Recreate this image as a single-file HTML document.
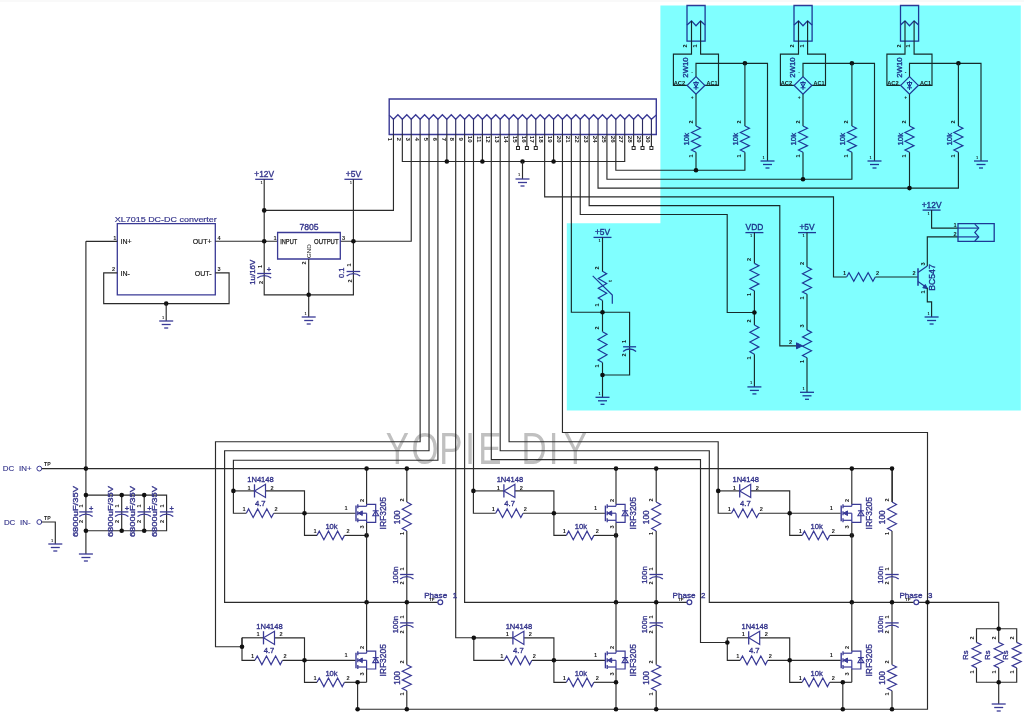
<!DOCTYPE html>
<html><head><meta charset="utf-8"><style>
html,body{margin:0;padding:0;background:#fff;width:1024px;height:716px;overflow:hidden}
svg{display:block}
text{font-family:"Liberation Sans",sans-serif}
</style></head><body>
<svg width="1024" height="716" viewBox="0 0 1024 716">
<rect x="0" y="0" width="1024" height="716" fill="#fff"/>
<rect x="0" y="0" width="1024" height="2" fill="#f9f9f9"/>
<text transform="translate(385.8,464.4) scale(0.8,1)" x="0" y="0" font-size="43.5" fill="#c0c0c0" font-family="Liberation Sans">Y</text>
<text transform="translate(411.5,464.4) scale(0.8,1)" x="0" y="0" font-size="43.5" fill="#c0c0c0" font-family="Liberation Sans">O</text>
<text transform="translate(439.3,464.4) scale(0.8,1)" x="0" y="0" font-size="43.5" fill="#c0c0c0" font-family="Liberation Sans">P</text>
<text transform="translate(465.2,464.4) scale(0.8,1)" x="0" y="0" font-size="43.5" fill="#c0c0c0" font-family="Liberation Sans">I</text>
<text transform="translate(478.3,464.4) scale(0.8,1)" x="0" y="0" font-size="43.5" fill="#c0c0c0" font-family="Liberation Sans">E</text>
<text transform="translate(521.4,464.4) scale(0.8,1)" x="0" y="0" font-size="43.5" fill="#c0c0c0" font-family="Liberation Sans">D</text>
<text transform="translate(548.8,464.4) scale(0.8,1)" x="0" y="0" font-size="43.5" fill="#c0c0c0" font-family="Liberation Sans">I</text>
<text transform="translate(563.7,464.4) scale(0.8,1)" x="0" y="0" font-size="43.5" fill="#c0c0c0" font-family="Liberation Sans">Y</text>
<polygon points="389.2,99 656.3,99 656.3,134.5 389.2,134.5" stroke="#3a3a96" stroke-width="1.4" fill="none"/>
<polyline points="389.2,115.1 393.45,119.3 397.9,114.7 402.34,119.3 406.79,114.7 411.24,119.3 415.69,114.7 420.13,119.3 424.58,114.7 429.03,119.3 433.48,114.7 437.92,119.3 442.37,114.7 446.82,119.3 451.27,114.7 455.71,119.3 460.16,114.7 464.61,119.3 469.06,114.7 473.5,119.3 477.95,114.7 482.4,119.3 486.85,114.7 491.29,119.3 495.74,114.7 500.19,119.3 504.64,114.7 509.08,119.3 513.53,114.7 517.98,119.3 522.43,114.7 526.88,119.3 531.33,114.7 535.77,119.3 540.22,114.7 544.66,119.3 549.12,114.7 553.56,119.3 558.01,114.7 562.45,119.3 566.9,114.7 571.35,119.3 575.8,114.7 580.25,119.3 584.7,114.7 589.14,119.3 593.59,114.7 598.03,119.3 602.49,114.7 606.93,119.3 611.38,114.7 615.83,119.3 620.28,114.7 624.72,119.3 629.17,114.7 633.62,119.3 638.07,114.7 642.51,119.3 646.96,114.7 651.4,119.3 656.3,115.1" stroke="#3a3a96" stroke-width="1.3" fill="none"/>
<line x1="393.45" y1="119.3" x2="393.45" y2="134.5" stroke="#2a2a60" stroke-width="1.15"/>
<text x="388.15" y="139.3" font-size="6.2" fill="#1a1a1a" text-anchor="middle" font-family="Liberation Sans" font-weight="bold" transform="rotate(90 388.15 139.3)">1</text>
<line x1="402.34" y1="119.3" x2="402.34" y2="134.5" stroke="#2a2a60" stroke-width="1.15"/>
<text x="397.04" y="139.3" font-size="6.2" fill="#1a1a1a" text-anchor="middle" font-family="Liberation Sans" font-weight="bold" transform="rotate(90 397.04 139.3)">2</text>
<line x1="411.24" y1="119.3" x2="411.24" y2="134.5" stroke="#2a2a60" stroke-width="1.15"/>
<text x="405.94" y="139.3" font-size="6.2" fill="#1a1a1a" text-anchor="middle" font-family="Liberation Sans" font-weight="bold" transform="rotate(90 405.94 139.3)">3</text>
<line x1="420.13" y1="119.3" x2="420.13" y2="134.5" stroke="#2a2a60" stroke-width="1.15"/>
<text x="414.83" y="139.3" font-size="6.2" fill="#1a1a1a" text-anchor="middle" font-family="Liberation Sans" font-weight="bold" transform="rotate(90 414.83 139.3)">4</text>
<line x1="429.03" y1="119.3" x2="429.03" y2="134.5" stroke="#2a2a60" stroke-width="1.15"/>
<text x="423.73" y="139.3" font-size="6.2" fill="#1a1a1a" text-anchor="middle" font-family="Liberation Sans" font-weight="bold" transform="rotate(90 423.73 139.3)">5</text>
<line x1="437.92" y1="119.3" x2="437.92" y2="134.5" stroke="#2a2a60" stroke-width="1.15"/>
<text x="432.62" y="139.3" font-size="6.2" fill="#1a1a1a" text-anchor="middle" font-family="Liberation Sans" font-weight="bold" transform="rotate(90 432.62 139.3)">6</text>
<line x1="446.82" y1="119.3" x2="446.82" y2="134.5" stroke="#2a2a60" stroke-width="1.15"/>
<text x="441.52" y="139.3" font-size="6.2" fill="#1a1a1a" text-anchor="middle" font-family="Liberation Sans" font-weight="bold" transform="rotate(90 441.52 139.3)">7</text>
<line x1="455.71" y1="119.3" x2="455.71" y2="134.5" stroke="#2a2a60" stroke-width="1.15"/>
<text x="450.41" y="139.3" font-size="6.2" fill="#1a1a1a" text-anchor="middle" font-family="Liberation Sans" font-weight="bold" transform="rotate(90 450.41 139.3)">8</text>
<line x1="464.61" y1="119.3" x2="464.61" y2="134.5" stroke="#2a2a60" stroke-width="1.15"/>
<text x="459.31" y="139.3" font-size="6.2" fill="#1a1a1a" text-anchor="middle" font-family="Liberation Sans" font-weight="bold" transform="rotate(90 459.31 139.3)">9</text>
<line x1="473.5" y1="119.3" x2="473.5" y2="134.5" stroke="#2a2a60" stroke-width="1.15"/>
<text x="468.2" y="139.3" font-size="6.2" fill="#1a1a1a" text-anchor="middle" font-family="Liberation Sans" font-weight="bold" transform="rotate(90 468.2 139.3)">10</text>
<line x1="482.4" y1="119.3" x2="482.4" y2="134.5" stroke="#2a2a60" stroke-width="1.15"/>
<text x="477.1" y="139.3" font-size="6.2" fill="#1a1a1a" text-anchor="middle" font-family="Liberation Sans" font-weight="bold" transform="rotate(90 477.1 139.3)">11</text>
<line x1="491.29" y1="119.3" x2="491.29" y2="134.5" stroke="#2a2a60" stroke-width="1.15"/>
<text x="485.99" y="139.3" font-size="6.2" fill="#1a1a1a" text-anchor="middle" font-family="Liberation Sans" font-weight="bold" transform="rotate(90 485.99 139.3)">12</text>
<line x1="500.19" y1="119.3" x2="500.19" y2="134.5" stroke="#2a2a60" stroke-width="1.15"/>
<text x="494.89" y="139.3" font-size="6.2" fill="#1a1a1a" text-anchor="middle" font-family="Liberation Sans" font-weight="bold" transform="rotate(90 494.89 139.3)">13</text>
<line x1="509.08" y1="119.3" x2="509.08" y2="134.5" stroke="#2a2a60" stroke-width="1.15"/>
<text x="503.78" y="139.3" font-size="6.2" fill="#1a1a1a" text-anchor="middle" font-family="Liberation Sans" font-weight="bold" transform="rotate(90 503.78 139.3)">14</text>
<line x1="517.98" y1="119.3" x2="517.98" y2="134.5" stroke="#2a2a60" stroke-width="1.15"/>
<text x="512.68" y="139.3" font-size="6.2" fill="#1a1a1a" text-anchor="middle" font-family="Liberation Sans" font-weight="bold" transform="rotate(90 512.68 139.3)">15</text>
<line x1="517.98" y1="134.5" x2="517.98" y2="146.5" stroke="#2b2b2b" stroke-width="1.15"/>
<rect x="516.48" y="146.5" width="3" height="3" fill="none" stroke="#2b2b2b" stroke-width="1"/>
<line x1="526.88" y1="119.3" x2="526.88" y2="134.5" stroke="#2a2a60" stroke-width="1.15"/>
<text x="521.58" y="139.3" font-size="6.2" fill="#1a1a1a" text-anchor="middle" font-family="Liberation Sans" font-weight="bold" transform="rotate(90 521.58 139.3)">16</text>
<line x1="526.88" y1="134.5" x2="526.88" y2="146.5" stroke="#2b2b2b" stroke-width="1.15"/>
<rect x="525.38" y="146.5" width="3" height="3" fill="none" stroke="#2b2b2b" stroke-width="1"/>
<line x1="535.77" y1="119.3" x2="535.77" y2="134.5" stroke="#2a2a60" stroke-width="1.15"/>
<text x="530.47" y="139.3" font-size="6.2" fill="#1a1a1a" text-anchor="middle" font-family="Liberation Sans" font-weight="bold" transform="rotate(90 530.47 139.3)">17</text>
<line x1="535.77" y1="134.5" x2="535.77" y2="146.5" stroke="#2b2b2b" stroke-width="1.15"/>
<rect x="534.27" y="146.5" width="3" height="3" fill="none" stroke="#2b2b2b" stroke-width="1"/>
<line x1="544.66" y1="119.3" x2="544.66" y2="134.5" stroke="#2a2a60" stroke-width="1.15"/>
<text x="539.37" y="139.3" font-size="6.2" fill="#1a1a1a" text-anchor="middle" font-family="Liberation Sans" font-weight="bold" transform="rotate(90 539.37 139.3)">18</text>
<line x1="553.56" y1="119.3" x2="553.56" y2="134.5" stroke="#2a2a60" stroke-width="1.15"/>
<text x="548.26" y="139.3" font-size="6.2" fill="#1a1a1a" text-anchor="middle" font-family="Liberation Sans" font-weight="bold" transform="rotate(90 548.26 139.3)">19</text>
<line x1="562.45" y1="119.3" x2="562.45" y2="134.5" stroke="#2a2a60" stroke-width="1.15"/>
<text x="557.15" y="139.3" font-size="6.2" fill="#1a1a1a" text-anchor="middle" font-family="Liberation Sans" font-weight="bold" transform="rotate(90 557.15 139.3)">20</text>
<line x1="571.35" y1="119.3" x2="571.35" y2="134.5" stroke="#2a2a60" stroke-width="1.15"/>
<text x="566.05" y="139.3" font-size="6.2" fill="#1a1a1a" text-anchor="middle" font-family="Liberation Sans" font-weight="bold" transform="rotate(90 566.05 139.3)">21</text>
<line x1="580.25" y1="119.3" x2="580.25" y2="134.5" stroke="#2a2a60" stroke-width="1.15"/>
<text x="574.95" y="139.3" font-size="6.2" fill="#1a1a1a" text-anchor="middle" font-family="Liberation Sans" font-weight="bold" transform="rotate(90 574.95 139.3)">22</text>
<line x1="589.14" y1="119.3" x2="589.14" y2="134.5" stroke="#2a2a60" stroke-width="1.15"/>
<text x="583.84" y="139.3" font-size="6.2" fill="#1a1a1a" text-anchor="middle" font-family="Liberation Sans" font-weight="bold" transform="rotate(90 583.84 139.3)">23</text>
<line x1="598.03" y1="119.3" x2="598.03" y2="134.5" stroke="#2a2a60" stroke-width="1.15"/>
<text x="592.74" y="139.3" font-size="6.2" fill="#1a1a1a" text-anchor="middle" font-family="Liberation Sans" font-weight="bold" transform="rotate(90 592.74 139.3)">24</text>
<line x1="606.93" y1="119.3" x2="606.93" y2="134.5" stroke="#2a2a60" stroke-width="1.15"/>
<text x="601.63" y="139.3" font-size="6.2" fill="#1a1a1a" text-anchor="middle" font-family="Liberation Sans" font-weight="bold" transform="rotate(90 601.63 139.3)">25</text>
<line x1="615.83" y1="119.3" x2="615.83" y2="134.5" stroke="#2a2a60" stroke-width="1.15"/>
<text x="610.53" y="139.3" font-size="6.2" fill="#1a1a1a" text-anchor="middle" font-family="Liberation Sans" font-weight="bold" transform="rotate(90 610.53 139.3)">26</text>
<line x1="624.72" y1="119.3" x2="624.72" y2="134.5" stroke="#2a2a60" stroke-width="1.15"/>
<text x="619.42" y="139.3" font-size="6.2" fill="#1a1a1a" text-anchor="middle" font-family="Liberation Sans" font-weight="bold" transform="rotate(90 619.42 139.3)">27</text>
<line x1="633.62" y1="119.3" x2="633.62" y2="134.5" stroke="#2a2a60" stroke-width="1.15"/>
<text x="628.32" y="139.3" font-size="6.2" fill="#1a1a1a" text-anchor="middle" font-family="Liberation Sans" font-weight="bold" transform="rotate(90 628.32 139.3)">28</text>
<line x1="633.62" y1="134.5" x2="633.62" y2="146.5" stroke="#2b2b2b" stroke-width="1.15"/>
<rect x="632.12" y="146.5" width="3" height="3" fill="none" stroke="#2b2b2b" stroke-width="1"/>
<line x1="642.51" y1="119.3" x2="642.51" y2="134.5" stroke="#2a2a60" stroke-width="1.15"/>
<text x="637.21" y="139.3" font-size="6.2" fill="#1a1a1a" text-anchor="middle" font-family="Liberation Sans" font-weight="bold" transform="rotate(90 637.21 139.3)">29</text>
<line x1="642.51" y1="134.5" x2="642.51" y2="146.5" stroke="#2b2b2b" stroke-width="1.15"/>
<rect x="641.01" y="146.5" width="3" height="3" fill="none" stroke="#2b2b2b" stroke-width="1"/>
<line x1="651.4" y1="119.3" x2="651.4" y2="134.5" stroke="#2a2a60" stroke-width="1.15"/>
<text x="646.11" y="139.3" font-size="6.2" fill="#1a1a1a" text-anchor="middle" font-family="Liberation Sans" font-weight="bold" transform="rotate(90 646.11 139.3)">30</text>
<line x1="651.4" y1="134.5" x2="651.4" y2="146.5" stroke="#2b2b2b" stroke-width="1.15"/>
<rect x="649.9" y="146.5" width="3" height="3" fill="none" stroke="#2b2b2b" stroke-width="1"/>
<polyline points="393.45,134.2 393.45,210.4 264.2,210.4" stroke="#2b2b2b" stroke-width="1.15" fill="none"/>
<polyline points="402.34,134.2 402.34,161.5 624.72,161.5 624.72,134.2" stroke="#2b2b2b" stroke-width="1.15" fill="none"/>
<polyline points="411.24,134.2 411.24,241.2 340.3,241.2" stroke="#2b2b2b" stroke-width="1.15" fill="none"/>
<polyline points="420.13,134.2 420.13,441.7 215.5,441.7 215.5,646.7 242,646.7" stroke="#2b2b2b" stroke-width="1.15" fill="none"/>
<polyline points="429.03,134.2 429.03,450.7 224.6,450.7 224.6,602.3 438,602.3" stroke="#2b2b2b" stroke-width="1.15" fill="none"/>
<polyline points="437.92,134.2 437.92,460.2 233.4,460.2 233.4,490.9" stroke="#2b2b2b" stroke-width="1.15" fill="none"/>
<polyline points="446.82,134.2 446.82,161.5" stroke="#2b2b2b" stroke-width="1.15" fill="none"/>
<polyline points="455.71,134.2 455.71,637.7 473.8,637.7" stroke="#2b2b2b" stroke-width="1.15" fill="none"/>
<polyline points="464.61,134.2 464.61,602.3 687.1,602.3" stroke="#2b2b2b" stroke-width="1.15" fill="none"/>
<polyline points="473.5,134.2 473.5,490.8" stroke="#2b2b2b" stroke-width="1.15" fill="none"/>
<polyline points="482.4,134.2 482.4,161.5" stroke="#2b2b2b" stroke-width="1.15" fill="none"/>
<polyline points="491.29,134.2 491.29,459.6 700.5,459.6 700.5,642.5 727.3,642.5" stroke="#2b2b2b" stroke-width="1.15" fill="none"/>
<polyline points="500.19,134.2 500.19,450.7 709.3,450.7 709.3,602.3 998.7,602.3 998.7,628.7" stroke="#2b2b2b" stroke-width="1.15" fill="none"/>
<polyline points="509.08,134.2 509.08,441.7 718.2,441.7 718.2,490.8" stroke="#2b2b2b" stroke-width="1.15" fill="none"/>
<polyline points="544.66,134.2 544.66,196.9 833.5,196.9 833.5,277 846.6,277" stroke="#2b2b2b" stroke-width="1.15" fill="none"/>
<polyline points="553.56,134.2 553.56,161.5" stroke="#2b2b2b" stroke-width="1.15" fill="none"/>
<polyline points="562.45,134.2 562.45,432.5 927.5,432.5 927.5,709.2 357.8,709.2" stroke="#2b2b2b" stroke-width="1.15" fill="none"/>
<polyline points="571.35,134.2 571.35,312.2 602.5,312.2" stroke="#2b2b2b" stroke-width="1.15" fill="none"/>
<polyline points="580.25,134.2 580.25,214.5 727.2,214.5 727.2,312.5 754.4,312.5" stroke="#2b2b2b" stroke-width="1.15" fill="none"/>
<polyline points="589.14,134.2 589.14,205.6 779.8,205.6 779.8,345.8 797.5,345.8" stroke="#2b2b2b" stroke-width="1.15" fill="none"/>
<polyline points="598.03,134.2 598.03,188.1 909.5,188.1" stroke="#2b2b2b" stroke-width="1.15" fill="none"/>
<polyline points="606.93,134.2 606.93,179.2 803,179.2" stroke="#2b2b2b" stroke-width="1.15" fill="none"/>
<polyline points="615.83,134.2 615.83,170.2 696,170.2" stroke="#2b2b2b" stroke-width="1.15" fill="none"/>
<circle cx="446.82" cy="161.5" r="2.3" fill="#111"/>
<circle cx="482.4" cy="161.5" r="2.3" fill="#111"/>
<circle cx="553.56" cy="161.5" r="2.3" fill="#111"/>
<circle cx="522.5" cy="161.5" r="2.3" fill="#111"/>
<polyline points="522.5,161.5 522.5,179" stroke="#2b2b2b" stroke-width="1.15" fill="none"/>
<line x1="515.5" y1="179" x2="529.5" y2="179" stroke="#3a3a96" stroke-width="1.3"/>
<line x1="518" y1="182.5" x2="527" y2="182.5" stroke="#3a3a96" stroke-width="1.3"/>
<line x1="520.5" y1="186" x2="524.5" y2="186" stroke="#3a3a96" stroke-width="1.3"/>
<text x="519" y="176" font-size="4" fill="#1a1a1a" text-anchor="middle" font-family="Liberation Sans" font-weight="bold">1</text>
<polygon points="117.3,223.6 215.3,223.6 215.3,294.9 117.3,294.9" stroke="#3a3a96" stroke-width="1.3" fill="none"/>
<text x="114.8" y="221.6" font-size="8.1" fill="#36368c" text-anchor="start" font-family="Liberation Mono" font-weight="normal" textLength="102" lengthAdjust="spacingAndGlyphs" stroke="#36368c" stroke-width="0.2">XL7015 DC-DC converter</text>
<text x="120.5" y="244.2" font-size="7" fill="#202020" text-anchor="start" font-family="Liberation Sans" font-weight="normal" stroke="#202020" stroke-width="0.2">IN+</text>
<text x="120.5" y="275.6" font-size="7" fill="#202020" text-anchor="start" font-family="Liberation Sans" font-weight="normal" stroke="#202020" stroke-width="0.2">IN-</text>
<text x="211.5" y="244.2" font-size="7" fill="#202020" text-anchor="end" font-family="Liberation Sans" font-weight="normal" stroke="#202020" stroke-width="0.2">OUT+</text>
<text x="211.5" y="275.6" font-size="7" fill="#202020" text-anchor="end" font-family="Liberation Sans" font-weight="normal" stroke="#202020" stroke-width="0.2">OUT-</text>
<text x="114.8" y="239.5" font-size="5.6" fill="#1a1a1a" text-anchor="middle" font-family="Liberation Sans" font-weight="bold">1</text>
<text x="113.5" y="270.5" font-size="5.6" fill="#1a1a1a" text-anchor="middle" font-family="Liberation Sans" font-weight="bold">2</text>
<text x="219" y="239.5" font-size="5.6" fill="#1a1a1a" text-anchor="middle" font-family="Liberation Sans" font-weight="bold">4</text>
<text x="219" y="270.5" font-size="5.6" fill="#1a1a1a" text-anchor="middle" font-family="Liberation Sans" font-weight="bold">3</text>
<polyline points="85.9,241.3 117.3,241.3" stroke="#2b2b2b" stroke-width="1.15" fill="none"/>
<polyline points="85.9,241.3 85.9,554" stroke="#2b2b2b" stroke-width="1.15" fill="none"/>
<polyline points="117.3,272.8 103.7,272.8 103.7,303.6 229.1,303.6 229.1,272.8 215.3,272.8" stroke="#2b2b2b" stroke-width="1.15" fill="none"/>
<circle cx="166.2" cy="303.6" r="2.3" fill="#111"/>
<polyline points="166.2,303.6 166.2,321" stroke="#2b2b2b" stroke-width="1.15" fill="none"/>
<line x1="159.2" y1="321" x2="173.2" y2="321" stroke="#3a3a96" stroke-width="1.3"/>
<line x1="161.7" y1="324.5" x2="170.7" y2="324.5" stroke="#3a3a96" stroke-width="1.3"/>
<line x1="164.2" y1="328" x2="168.2" y2="328" stroke="#3a3a96" stroke-width="1.3"/>
<text x="163" y="318.5" font-size="4" fill="#1a1a1a" text-anchor="middle" font-family="Liberation Sans" font-weight="bold">1</text>
<polyline points="215.3,241.2 277.6,241.2" stroke="#2b2b2b" stroke-width="1.15" fill="none"/>
<line x1="255.2" y1="179.3" x2="273.2" y2="179.3" stroke="#3a3a96" stroke-width="1.3"/>
<text x="264.2" y="176.7" font-size="8.4" fill="#36368c" text-anchor="middle" font-family="Liberation Sans" font-weight="normal" stroke="#36368c" stroke-width="0.35">+12V</text>
<line x1="344.4" y1="179.3" x2="362.4" y2="179.3" stroke="#3a3a96" stroke-width="1.3"/>
<text x="353.4" y="176.7" font-size="8.4" fill="#36368c" text-anchor="middle" font-family="Liberation Sans" font-weight="normal" stroke="#36368c" stroke-width="0.35">+5V</text>
<text x="261.5" y="184" font-size="4" fill="#1a1a1a" text-anchor="middle" font-family="Liberation Sans" font-weight="bold">1</text>
<text x="350.8" y="184" font-size="4" fill="#1a1a1a" text-anchor="middle" font-family="Liberation Sans" font-weight="bold">1</text>
<polygon points="277.6,232.5 340.3,232.5 340.3,259 277.6,259" stroke="#3a3a96" stroke-width="1.3" fill="none"/>
<text x="309" y="230.3" font-size="8.6" fill="#36368c" text-anchor="middle" font-family="Liberation Mono" font-weight="normal" stroke="#36368c" stroke-width="0.35">7805</text>
<text x="280.2" y="244" font-size="6.4" fill="#202020" text-anchor="start" font-family="Liberation Sans" font-weight="normal" textLength="17" lengthAdjust="spacingAndGlyphs" stroke="#202020" stroke-width="0.25">INPUT</text>
<text x="338.6" y="244" font-size="6.4" fill="#202020" text-anchor="end" font-family="Liberation Sans" font-weight="normal" textLength="24.6" lengthAdjust="spacingAndGlyphs" stroke="#202020" stroke-width="0.25">OUTPUT</text>
<text x="311.3" y="258" font-size="6.2" fill="#202020" text-anchor="start" font-family="Liberation Sans" font-weight="normal" transform="rotate(-90 311.3 258)">GND</text>
<text x="275" y="239.8" font-size="5.6" fill="#1a1a1a" text-anchor="middle" font-family="Liberation Sans" font-weight="bold">1</text>
<text x="343.5" y="239.8" font-size="5.6" fill="#1a1a1a" text-anchor="middle" font-family="Liberation Sans" font-weight="bold">3</text>
<text x="306" y="263" font-size="5.6" fill="#1a1a1a" text-anchor="middle" font-family="Liberation Sans" font-weight="bold" transform="rotate(-90 306 263)">2</text>
<polyline points="264.2,179.3 264.2,294.8 353.4,294.8 353.4,179.3" stroke="#2b2b2b" stroke-width="1.15" fill="none"/>
<polyline points="308.7,259 308.7,317" stroke="#2b2b2b" stroke-width="1.15" fill="none"/>
<line x1="257.2" y1="273.5" x2="271.2" y2="273.5" stroke="#3a3a96" stroke-width="1.3"/>
<path d="M257.2,278.1 A11.41,11.41 0 0 1 271.2,278.1" stroke="#3a3a96" stroke-width="1.3" fill="none"/>
<line x1="346.6" y1="271.5" x2="360.2" y2="271.5" stroke="#3a3a96" stroke-width="1.3"/>
<path d="M346.6,276.1 A10.83,10.83 0 0 1 360.2,276.1" stroke="#3a3a96" stroke-width="1.3" fill="none"/>
<text x="255.3" y="272.3" font-size="7.4" fill="#36368c" text-anchor="middle" font-family="Liberation Sans" font-weight="normal" transform="rotate(-90 255.3 272.3)" textLength="25" lengthAdjust="spacingAndGlyphs" stroke="#36368c" stroke-width="0.35">1u/16V</text>
<text x="344.2" y="272.8" font-size="7.4" fill="#36368c" text-anchor="middle" font-family="Liberation Sans" font-weight="normal" transform="rotate(-90 344.2 272.8)" stroke="#36368c" stroke-width="0.35">0.1</text>
<text x="269" y="271.5" font-size="7.5" fill="#36368c" text-anchor="middle" font-family="Liberation Sans" font-weight="normal" stroke="#36368c" stroke-width="0.35">+</text>
<text x="262" y="266.5" font-size="5.6" fill="#1a1a1a" text-anchor="middle" font-family="Liberation Sans" font-weight="bold" transform="rotate(-90 262 266.5)">1</text>
<text x="263" y="282.5" font-size="5.6" fill="#1a1a1a" text-anchor="middle" font-family="Liberation Sans" font-weight="bold" transform="rotate(-90 263 282.5)">2</text>
<text x="350.5" y="265" font-size="5.6" fill="#1a1a1a" text-anchor="middle" font-family="Liberation Sans" font-weight="bold" transform="rotate(-90 350.5 265)">1</text>
<text x="352" y="281" font-size="5.6" fill="#1a1a1a" text-anchor="middle" font-family="Liberation Sans" font-weight="bold" transform="rotate(-90 352 281)">2</text>
<circle cx="264.2" cy="210.4" r="2.3" fill="#111"/>
<circle cx="264.2" cy="241.2" r="2.3" fill="#111"/>
<circle cx="353.4" cy="241.2" r="2.3" fill="#111"/>
<circle cx="308.7" cy="294.8" r="2.3" fill="#111"/>
<line x1="301.7" y1="317" x2="315.7" y2="317" stroke="#3a3a96" stroke-width="1.3"/>
<line x1="304.2" y1="320.5" x2="313.2" y2="320.5" stroke="#3a3a96" stroke-width="1.3"/>
<line x1="306.7" y1="324" x2="310.7" y2="324" stroke="#3a3a96" stroke-width="1.3"/>
<text x="305.5" y="314.5" font-size="4" fill="#1a1a1a" text-anchor="middle" font-family="Liberation Sans" font-weight="bold">1</text>
<text x="2.8" y="471.3" font-size="7.9" fill="#36368c" text-anchor="start" font-family="Liberation Sans" font-weight="normal" stroke="#36368c" stroke-width="0.15">DC</text>
<text x="19" y="471.3" font-size="7.9" fill="#36368c" text-anchor="start" font-family="Liberation Sans" font-weight="normal" stroke="#36368c" stroke-width="0.15">IN+</text>
<text x="3.9" y="524.8" font-size="7.9" fill="#36368c" text-anchor="start" font-family="Liberation Sans" font-weight="normal" stroke="#36368c" stroke-width="0.15">DC</text>
<text x="20.1" y="524.8" font-size="7.9" fill="#36368c" text-anchor="start" font-family="Liberation Sans" font-weight="normal" stroke="#36368c" stroke-width="0.15">IN-</text>
<circle cx="39.3" cy="468.6" r="2.4" fill="none" stroke="#3a3a96" stroke-width="1.0"/>
<circle cx="39.3" cy="522" r="2.4" fill="none" stroke="#3a3a96" stroke-width="1.0"/>
<text x="47.3" y="466.3" font-size="5.2" fill="#1a1a1a" text-anchor="middle" font-family="Liberation Sans" font-weight="bold">TP</text>
<text x="47.3" y="519.8" font-size="5.2" fill="#1a1a1a" text-anchor="middle" font-family="Liberation Sans" font-weight="bold">TP</text>
<polyline points="41.6,468.6 892.3,468.6 892.3,502" stroke="#2b2b2b" stroke-width="1.15" fill="none"/>
<polyline points="41.6,522 55.3,522 55.3,544" stroke="#2b2b2b" stroke-width="1.15" fill="none"/>
<line x1="48.3" y1="544" x2="62.3" y2="544" stroke="#3a3a96" stroke-width="1.3"/>
<line x1="50.8" y1="547.5" x2="59.8" y2="547.5" stroke="#3a3a96" stroke-width="1.3"/>
<line x1="53.3" y1="551" x2="57.3" y2="551" stroke="#3a3a96" stroke-width="1.3"/>
<text x="52" y="541.5" font-size="4" fill="#1a1a1a" text-anchor="middle" font-family="Liberation Sans" font-weight="bold">1</text>
<polyline points="85.9,495.1 166.6,495.1 166.6,530.7 85.9,530.7" stroke="#2b2b2b" stroke-width="1.15" fill="none"/>
<polyline points="121.7,495.1 121.7,530.7" stroke="#2b2b2b" stroke-width="1.15" fill="none"/>
<polyline points="144.2,495.1 144.2,530.7" stroke="#2b2b2b" stroke-width="1.15" fill="none"/>
<line x1="79.2" y1="511.9" x2="92.6" y2="511.9" stroke="#3a3a96" stroke-width="1.3"/>
<path d="M79.2,516.5 A10.55,10.55 0 0 1 92.6,516.5" stroke="#3a3a96" stroke-width="1.3" fill="none"/>
<text x="91.1" y="510.5" font-size="7.5" fill="#36368c" text-anchor="middle" font-family="Liberation Sans" font-weight="normal" stroke="#36368c" stroke-width="0.35">+</text>
<text x="82.9" y="506" font-size="5.6" fill="#1a1a1a" text-anchor="middle" font-family="Liberation Sans" font-weight="bold" transform="rotate(-90 82.9 506)">1</text>
<text x="82.9" y="521.5" font-size="5.6" fill="#1a1a1a" text-anchor="middle" font-family="Liberation Sans" font-weight="bold" transform="rotate(-90 82.9 521.5)">2</text>
<line x1="115" y1="511.9" x2="128.4" y2="511.9" stroke="#3a3a96" stroke-width="1.3"/>
<path d="M115,516.5 A10.55,10.55 0 0 1 128.4,516.5" stroke="#3a3a96" stroke-width="1.3" fill="none"/>
<text x="126.9" y="510.5" font-size="7.5" fill="#36368c" text-anchor="middle" font-family="Liberation Sans" font-weight="normal" stroke="#36368c" stroke-width="0.35">+</text>
<text x="118.7" y="506" font-size="5.6" fill="#1a1a1a" text-anchor="middle" font-family="Liberation Sans" font-weight="bold" transform="rotate(-90 118.7 506)">1</text>
<text x="118.7" y="521.5" font-size="5.6" fill="#1a1a1a" text-anchor="middle" font-family="Liberation Sans" font-weight="bold" transform="rotate(-90 118.7 521.5)">2</text>
<line x1="137.5" y1="511.9" x2="150.9" y2="511.9" stroke="#3a3a96" stroke-width="1.3"/>
<path d="M137.5,516.5 A10.55,10.55 0 0 1 150.9,516.5" stroke="#3a3a96" stroke-width="1.3" fill="none"/>
<text x="149.4" y="510.5" font-size="7.5" fill="#36368c" text-anchor="middle" font-family="Liberation Sans" font-weight="normal" stroke="#36368c" stroke-width="0.35">+</text>
<text x="141.2" y="506" font-size="5.6" fill="#1a1a1a" text-anchor="middle" font-family="Liberation Sans" font-weight="bold" transform="rotate(-90 141.2 506)">1</text>
<text x="141.2" y="521.5" font-size="5.6" fill="#1a1a1a" text-anchor="middle" font-family="Liberation Sans" font-weight="bold" transform="rotate(-90 141.2 521.5)">2</text>
<line x1="159.9" y1="511.9" x2="173.3" y2="511.9" stroke="#3a3a96" stroke-width="1.3"/>
<path d="M159.9,516.5 A10.55,10.55 0 0 1 173.3,516.5" stroke="#3a3a96" stroke-width="1.3" fill="none"/>
<text x="171.8" y="510.5" font-size="7.5" fill="#36368c" text-anchor="middle" font-family="Liberation Sans" font-weight="normal" stroke="#36368c" stroke-width="0.35">+</text>
<text x="163.6" y="506" font-size="5.6" fill="#1a1a1a" text-anchor="middle" font-family="Liberation Sans" font-weight="bold" transform="rotate(-90 163.6 506)">1</text>
<text x="163.6" y="521.5" font-size="5.6" fill="#1a1a1a" text-anchor="middle" font-family="Liberation Sans" font-weight="bold" transform="rotate(-90 163.6 521.5)">2</text>
<text x="77.7" y="511.6" font-size="7.6" fill="#36368c" text-anchor="middle" font-family="Liberation Sans" font-weight="normal" transform="rotate(-90 77.7 511.6)" textLength="51" lengthAdjust="spacingAndGlyphs" stroke="#36368c" stroke-width="0.35">6800uF/35V</text>
<text x="112.9" y="511.6" font-size="7.6" fill="#36368c" text-anchor="middle" font-family="Liberation Sans" font-weight="normal" transform="rotate(-90 112.9 511.6)" textLength="51" lengthAdjust="spacingAndGlyphs" stroke="#36368c" stroke-width="0.35">6800uF/35V</text>
<text x="134.8" y="511.6" font-size="7.6" fill="#36368c" text-anchor="middle" font-family="Liberation Sans" font-weight="normal" transform="rotate(-90 134.8 511.6)" textLength="51" lengthAdjust="spacingAndGlyphs" stroke="#36368c" stroke-width="0.35">6800uF/35V</text>
<text x="157.5" y="511.6" font-size="7.6" fill="#36368c" text-anchor="middle" font-family="Liberation Sans" font-weight="normal" transform="rotate(-90 157.5 511.6)" textLength="51" lengthAdjust="spacingAndGlyphs" stroke="#36368c" stroke-width="0.35">6800uF/35V</text>
<circle cx="85.9" cy="468.6" r="2.3" fill="#111"/>
<circle cx="85.9" cy="495.1" r="2.3" fill="#111"/>
<circle cx="85.9" cy="530.7" r="2.3" fill="#111"/>
<circle cx="121.7" cy="495.1" r="2.3" fill="#111"/>
<circle cx="121.7" cy="530.7" r="2.3" fill="#111"/>
<circle cx="144.2" cy="495.1" r="2.3" fill="#111"/>
<circle cx="144.2" cy="530.7" r="2.3" fill="#111"/>
<line x1="78.9" y1="554" x2="92.9" y2="554" stroke="#3a3a96" stroke-width="1.3"/>
<line x1="81.4" y1="557.5" x2="90.4" y2="557.5" stroke="#3a3a96" stroke-width="1.3"/>
<line x1="83.9" y1="561" x2="87.9" y2="561" stroke="#3a3a96" stroke-width="1.3"/>
<polyline points="233.4,490.9 254.5,490.9" stroke="#2b2b2b" stroke-width="1.15" fill="none"/>
<polyline points="265.5,490.9 304.5,490.9 304.5,513.2" stroke="#2b2b2b" stroke-width="1.15" fill="none"/>
<line x1="254.5" y1="484.3" x2="254.5" y2="497.5" stroke="#3a3a96" stroke-width="1.3"/>
<polygon points="254.5,490.9 265.5,484.3 265.5,497.5" stroke="#3a3a96" stroke-width="1.2" fill="none"/>
<text x="260.5" y="481.6" font-size="7.6" fill="#36368c" text-anchor="middle" font-family="Liberation Sans" font-weight="normal" textLength="26.5" lengthAdjust="spacingAndGlyphs" stroke="#36368c" stroke-width="0.35">1N4148</text>
<text x="249" y="489.5" font-size="5.6" fill="#1a1a1a" text-anchor="middle" font-family="Liberation Sans" font-weight="bold">1</text>
<text x="272" y="489.5" font-size="5.6" fill="#1a1a1a" text-anchor="middle" font-family="Liberation Sans" font-weight="bold">2</text>
<polyline points="233.4,490.9 233.4,513.2 246.3,513.2" stroke="#2b2b2b" stroke-width="1.15" fill="none"/>
<polyline points="246.3,513.2 248.58,508.9 253.15,517.5 257.72,508.9 262.28,517.5 266.85,508.9 271.42,517.5 273.7,513.2" stroke="#3a3a96" stroke-width="1.2" fill="none"/>
<text x="260.2" y="506.3" font-size="7.6" fill="#36368c" text-anchor="middle" font-family="Liberation Sans" font-weight="normal" stroke="#36368c" stroke-width="0.35">4.7</text>
<text x="244" y="511" font-size="5.6" fill="#1a1a1a" text-anchor="middle" font-family="Liberation Sans" font-weight="bold">1</text>
<text x="276" y="511" font-size="5.6" fill="#1a1a1a" text-anchor="middle" font-family="Liberation Sans" font-weight="bold">2</text>
<polyline points="273.7,513.2 355.6,513.2" stroke="#2b2b2b" stroke-width="1.15" fill="none"/>
<polyline points="304.5,513.2 304.5,535.4 317,535.4" stroke="#2b2b2b" stroke-width="1.15" fill="none"/>
<polyline points="317,535.4 319.29,531.1 323.88,539.7 328.46,531.1 333.04,539.7 337.62,531.1 342.21,539.7 344.5,535.4" stroke="#3a3a96" stroke-width="1.2" fill="none"/>
<polyline points="344.5,535.4 366.6,535.4" stroke="#2b2b2b" stroke-width="1.15" fill="none"/>
<text x="331.5" y="528.6" font-size="7.6" fill="#36368c" text-anchor="middle" font-family="Liberation Sans" font-weight="normal" stroke="#36368c" stroke-width="0.35">10k</text>
<text x="315" y="533" font-size="5.6" fill="#1a1a1a" text-anchor="middle" font-family="Liberation Sans" font-weight="bold">1</text>
<text x="348" y="533" font-size="5.6" fill="#1a1a1a" text-anchor="middle" font-family="Liberation Sans" font-weight="bold">2</text>
<text x="346.1" y="510" font-size="5.6" fill="#1a1a1a" text-anchor="middle" font-family="Liberation Sans" font-weight="bold">1</text>
<circle cx="233.4" cy="490.9" r="2.3" fill="#111"/>
<circle cx="304.5" cy="513.2" r="2.3" fill="#111"/>
<circle cx="366.6" cy="535.4" r="2.3" fill="#111"/>
<polyline points="366.6,468.6 366.6,504.3" stroke="#2b2b2b" stroke-width="1.15" fill="none"/>
<polyline points="366.6,522.3 366.6,602.3" stroke="#2b2b2b" stroke-width="1.15" fill="none"/>
<line x1="356" y1="505.6" x2="356" y2="521.2" stroke="#3a3a96" stroke-width="1.4"/>
<line x1="357.8" y1="504.3" x2="357.8" y2="508.3" stroke="#3a3a96" stroke-width="1.3"/>
<line x1="357.8" y1="511.2" x2="357.8" y2="515.2" stroke="#3a3a96" stroke-width="1.3"/>
<line x1="357.8" y1="518.3" x2="357.8" y2="522.3" stroke="#3a3a96" stroke-width="1.3"/>
<line x1="357.8" y1="506.3" x2="366.6" y2="506.3" stroke="#3a3a96" stroke-width="1.2"/>
<line x1="366.6" y1="506.3" x2="366.6" y2="504.3" stroke="#3a3a96" stroke-width="1.2"/>
<line x1="357.8" y1="513.2" x2="366.6" y2="513.2" stroke="#3a3a96" stroke-width="1.2"/>
<polygon points="358.3,513.2 362.3,510.9 362.3,515.5" stroke="#3a3a96" stroke-width="1" fill="#3a3a96"/>
<line x1="366.6" y1="513.2" x2="366.6" y2="522.3" stroke="#3a3a96" stroke-width="1.2"/>
<line x1="357.8" y1="520.3" x2="366.6" y2="520.3" stroke="#3a3a96" stroke-width="1.2"/>
<polyline points="366.6,504.3 375.7,504.3 375.7,522.3 366.6,522.3" stroke="#3a3a96" stroke-width="1.2" fill="none"/>
<polygon points="375.7,510.8 372.7,515.8 378.7,515.8" stroke="#3a3a96" stroke-width="1.1" fill="none"/>
<line x1="372.7" y1="510.8" x2="378.7" y2="510.8" stroke="#3a3a96" stroke-width="1.1"/>
<text x="364.1" y="500.5" font-size="5.6" fill="#1a1a1a" text-anchor="middle" font-family="Liberation Sans" font-weight="bold" transform="rotate(-90 364.1 500.5)">2</text>
<text x="364.1" y="527" font-size="5.6" fill="#1a1a1a" text-anchor="middle" font-family="Liberation Sans" font-weight="bold" transform="rotate(-90 364.1 527)">3</text>
<text x="386.4" y="513.2" font-size="8.9" fill="#36368c" text-anchor="middle" font-family="Liberation Sans" font-weight="normal" transform="rotate(-90 386.4 513.2)" textLength="32.5" lengthAdjust="spacingAndGlyphs" stroke="#36368c" stroke-width="0.35">IRF3205</text>
<polyline points="406.8,468.6 406.8,502" stroke="#2b2b2b" stroke-width="1.15" fill="none"/>
<polyline points="406.8,502 411.3,504.42 402.3,509.25 411.3,514.08 402.3,518.92 411.3,523.75 402.3,528.58 406.8,531" stroke="#3a3a96" stroke-width="1.2" fill="none"/>
<polyline points="406.8,531 406.8,664.8" stroke="#2b2b2b" stroke-width="1.15" fill="none"/>
<line x1="400.1" y1="574.5" x2="413.5" y2="574.5" stroke="#3a3a96" stroke-width="1.3"/>
<path d="M400.1,579.1 A10.55,10.55 0 0 1 413.5,579.1" stroke="#3a3a96" stroke-width="1.3" fill="none"/>
<text x="399.8" y="517.3" font-size="8.2" fill="#36368c" text-anchor="middle" font-family="Liberation Sans" font-weight="normal" transform="rotate(-90 399.8 517.3)" stroke="#36368c" stroke-width="0.35">100</text>
<text x="403.8" y="500" font-size="5.6" fill="#1a1a1a" text-anchor="middle" font-family="Liberation Sans" font-weight="bold" transform="rotate(-90 403.8 500)">2</text>
<text x="403.6" y="533.5" font-size="5.6" fill="#1a1a1a" text-anchor="middle" font-family="Liberation Sans" font-weight="bold" transform="rotate(-90 403.6 533.5)">1</text>
<text x="397.9" y="575" font-size="7.9" fill="#36368c" text-anchor="middle" font-family="Liberation Sans" font-weight="normal" transform="rotate(-90 397.9 575)" stroke="#36368c" stroke-width="0.35">100n</text>
<text x="403.8" y="569" font-size="5.6" fill="#1a1a1a" text-anchor="middle" font-family="Liberation Sans" font-weight="bold" transform="rotate(-90 403.8 569)">1</text>
<text x="403.8" y="583" font-size="5.6" fill="#1a1a1a" text-anchor="middle" font-family="Liberation Sans" font-weight="bold" transform="rotate(-90 403.8 583)">2</text>
<circle cx="366.6" cy="468.6" r="2.3" fill="#111"/>
<circle cx="406.8" cy="468.6" r="2.3" fill="#111"/>
<circle cx="366.6" cy="602.3" r="2.3" fill="#111"/>
<circle cx="406.8" cy="602.3" r="2.3" fill="#111"/>
<polyline points="242,637.8 263.5,637.8" stroke="#2b2b2b" stroke-width="1.15" fill="none"/>
<polyline points="274.5,637.8 304.5,637.8 304.5,660.3" stroke="#2b2b2b" stroke-width="1.15" fill="none"/>
<line x1="263.5" y1="631.2" x2="263.5" y2="644.4" stroke="#3a3a96" stroke-width="1.3"/>
<polygon points="263.5,637.8 274.5,631.2 274.5,644.4" stroke="#3a3a96" stroke-width="1.2" fill="none"/>
<text x="269.5" y="628.5" font-size="7.6" fill="#36368c" text-anchor="middle" font-family="Liberation Sans" font-weight="normal" textLength="26.5" lengthAdjust="spacingAndGlyphs" stroke="#36368c" stroke-width="0.35">1N4148</text>
<text x="258" y="636" font-size="5.6" fill="#1a1a1a" text-anchor="middle" font-family="Liberation Sans" font-weight="bold">1</text>
<text x="281" y="636" font-size="5.6" fill="#1a1a1a" text-anchor="middle" font-family="Liberation Sans" font-weight="bold">2</text>
<polyline points="242,637.8 242,660.3 255,660.3" stroke="#2b2b2b" stroke-width="1.15" fill="none"/>
<polyline points="255,660.3 257.29,656 261.88,664.6 266.46,656 271.04,664.6 275.62,656 280.21,664.6 282.5,660.3" stroke="#3a3a96" stroke-width="1.2" fill="none"/>
<text x="269" y="653.3" font-size="7.6" fill="#36368c" text-anchor="middle" font-family="Liberation Sans" font-weight="normal" stroke="#36368c" stroke-width="0.35">4.7</text>
<text x="252.5" y="658" font-size="5.6" fill="#1a1a1a" text-anchor="middle" font-family="Liberation Sans" font-weight="bold">1</text>
<text x="285" y="658" font-size="5.6" fill="#1a1a1a" text-anchor="middle" font-family="Liberation Sans" font-weight="bold">2</text>
<polyline points="282.5,660.3 355.6,660.3" stroke="#2b2b2b" stroke-width="1.15" fill="none"/>
<polyline points="304.5,660.3 304.5,682.3 317,682.3" stroke="#2b2b2b" stroke-width="1.15" fill="none"/>
<polyline points="317,682.3 319.29,678 323.88,686.6 328.46,678 333.04,686.6 337.62,678 342.21,686.6 344.5,682.3" stroke="#3a3a96" stroke-width="1.2" fill="none"/>
<text x="331.5" y="675.5" font-size="7.6" fill="#36368c" text-anchor="middle" font-family="Liberation Sans" font-weight="normal" stroke="#36368c" stroke-width="0.35">10k</text>
<text x="315" y="680" font-size="5.6" fill="#1a1a1a" text-anchor="middle" font-family="Liberation Sans" font-weight="bold">1</text>
<text x="348" y="680" font-size="5.6" fill="#1a1a1a" text-anchor="middle" font-family="Liberation Sans" font-weight="bold">2</text>
<text x="346.1" y="657" font-size="5.6" fill="#1a1a1a" text-anchor="middle" font-family="Liberation Sans" font-weight="bold">1</text>
<circle cx="304.5" cy="660.3" r="2.3" fill="#111"/>
<polyline points="242,646.7 242,637.8" stroke="#2b2b2b" stroke-width="1.15" fill="none"/>
<circle cx="242" cy="646.7" r="2.3" fill="#111"/>
<polyline points="344.5,682.3 366.6,682.3" stroke="#2b2b2b" stroke-width="1.15" fill="none"/>
<polyline points="366.6,602.3 366.6,651.2" stroke="#2b2b2b" stroke-width="1.15" fill="none"/>
<polyline points="366.6,669 366.6,682.3" stroke="#2b2b2b" stroke-width="1.15" fill="none"/>
<line x1="356" y1="652.7" x2="356" y2="668.3" stroke="#3a3a96" stroke-width="1.4"/>
<line x1="357.8" y1="651.2" x2="357.8" y2="655.2" stroke="#3a3a96" stroke-width="1.3"/>
<line x1="357.8" y1="658.3" x2="357.8" y2="662.3" stroke="#3a3a96" stroke-width="1.3"/>
<line x1="357.8" y1="665" x2="357.8" y2="669" stroke="#3a3a96" stroke-width="1.3"/>
<line x1="357.8" y1="653.2" x2="366.6" y2="653.2" stroke="#3a3a96" stroke-width="1.2"/>
<line x1="366.6" y1="653.2" x2="366.6" y2="651.2" stroke="#3a3a96" stroke-width="1.2"/>
<line x1="357.8" y1="660.3" x2="366.6" y2="660.3" stroke="#3a3a96" stroke-width="1.2"/>
<polygon points="358.3,660.3 362.3,658 362.3,662.6" stroke="#3a3a96" stroke-width="1" fill="#3a3a96"/>
<line x1="366.6" y1="660.3" x2="366.6" y2="669" stroke="#3a3a96" stroke-width="1.2"/>
<line x1="357.8" y1="667" x2="366.6" y2="667" stroke="#3a3a96" stroke-width="1.2"/>
<polyline points="366.6,651.2 375.7,651.2 375.7,669 366.6,669" stroke="#3a3a96" stroke-width="1.2" fill="none"/>
<polygon points="375.7,657.6 372.7,662.6 378.7,662.6" stroke="#3a3a96" stroke-width="1.1" fill="none"/>
<line x1="372.7" y1="657.6" x2="378.7" y2="657.6" stroke="#3a3a96" stroke-width="1.1"/>
<text x="364.1" y="647.5" font-size="5.6" fill="#1a1a1a" text-anchor="middle" font-family="Liberation Sans" font-weight="bold" transform="rotate(-90 364.1 647.5)">2</text>
<text x="364.1" y="674" font-size="5.6" fill="#1a1a1a" text-anchor="middle" font-family="Liberation Sans" font-weight="bold" transform="rotate(-90 364.1 674)">3</text>
<text x="386.4" y="660.3" font-size="8.9" fill="#36368c" text-anchor="middle" font-family="Liberation Sans" font-weight="normal" transform="rotate(-90 386.4 660.3)" textLength="32.5" lengthAdjust="spacingAndGlyphs" stroke="#36368c" stroke-width="0.35">IRF3205</text>
<polyline points="357.6,682.3 357.6,709.2" stroke="#2b2b2b" stroke-width="1.15" fill="none"/>
<circle cx="357.6" cy="682.3" r="2.3" fill="#111"/>
<circle cx="357.6" cy="709.2" r="2.3" fill="#111"/>
<line x1="400.1" y1="622.9" x2="413.5" y2="622.9" stroke="#3a3a96" stroke-width="1.3"/>
<path d="M400.1,627.5 A10.55,10.55 0 0 1 413.5,627.5" stroke="#3a3a96" stroke-width="1.3" fill="none"/>
<polyline points="406.8,664.8 411.3,666.96 402.3,671.27 411.3,675.59 402.3,679.91 411.3,684.23 402.3,688.54 406.8,690.7" stroke="#3a3a96" stroke-width="1.2" fill="none"/>
<polyline points="406.8,690.7 406.8,709.2" stroke="#2b2b2b" stroke-width="1.15" fill="none"/>
<text x="397.9" y="624.5" font-size="7.9" fill="#36368c" text-anchor="middle" font-family="Liberation Sans" font-weight="normal" transform="rotate(-90 397.9 624.5)" stroke="#36368c" stroke-width="0.35">100n</text>
<text x="403.8" y="617" font-size="5.6" fill="#1a1a1a" text-anchor="middle" font-family="Liberation Sans" font-weight="bold" transform="rotate(-90 403.8 617)">1</text>
<text x="403.8" y="632" font-size="5.6" fill="#1a1a1a" text-anchor="middle" font-family="Liberation Sans" font-weight="bold" transform="rotate(-90 403.8 632)">2</text>
<text x="399.8" y="678" font-size="8.2" fill="#36368c" text-anchor="middle" font-family="Liberation Sans" font-weight="normal" transform="rotate(-90 399.8 678)" stroke="#36368c" stroke-width="0.35">100</text>
<text x="403.8" y="662" font-size="5.6" fill="#1a1a1a" text-anchor="middle" font-family="Liberation Sans" font-weight="bold" transform="rotate(-90 403.8 662)">2</text>
<text x="403.6" y="694" font-size="5.6" fill="#1a1a1a" text-anchor="middle" font-family="Liberation Sans" font-weight="bold" transform="rotate(-90 403.6 694)">1</text>
<circle cx="406.8" cy="709.2" r="2.3" fill="#111"/>
<circle cx="440.3" cy="602.3" r="2.4" fill="#fff" stroke="#3a3a96" stroke-width="1.2"/>
<text x="424.2" y="597.6" font-size="7.9" fill="#36368c" text-anchor="start" font-family="Liberation Sans" font-weight="normal" textLength="23" lengthAdjust="spacingAndGlyphs" stroke="#36368c" stroke-width="0.35">Phase</text>
<text x="452.7" y="597.6" font-size="7.9" fill="#36368c" text-anchor="start" font-family="Liberation Sans" font-weight="normal" stroke="#36368c" stroke-width="0.35">1</text>
<text x="431.8" y="601" font-size="4.3" fill="#1a1a1a" text-anchor="middle" font-family="Liberation Sans" font-weight="bold">TP</text>
<polyline points="473.4,490.9 503.9,490.9" stroke="#2b2b2b" stroke-width="1.15" fill="none"/>
<polyline points="514.9,490.9 553.9,490.9 553.9,513.2" stroke="#2b2b2b" stroke-width="1.15" fill="none"/>
<line x1="503.9" y1="484.3" x2="503.9" y2="497.5" stroke="#3a3a96" stroke-width="1.3"/>
<polygon points="503.9,490.9 514.9,484.3 514.9,497.5" stroke="#3a3a96" stroke-width="1.2" fill="none"/>
<text x="509.9" y="481.6" font-size="7.6" fill="#36368c" text-anchor="middle" font-family="Liberation Sans" font-weight="normal" textLength="26.5" lengthAdjust="spacingAndGlyphs" stroke="#36368c" stroke-width="0.35">1N4148</text>
<text x="498.4" y="489.5" font-size="5.6" fill="#1a1a1a" text-anchor="middle" font-family="Liberation Sans" font-weight="bold">1</text>
<text x="521.4" y="489.5" font-size="5.6" fill="#1a1a1a" text-anchor="middle" font-family="Liberation Sans" font-weight="bold">2</text>
<polyline points="473.4,490.9 473.4,513.2 495.7,513.2" stroke="#2b2b2b" stroke-width="1.15" fill="none"/>
<polyline points="495.7,513.2 497.98,508.9 502.55,517.5 507.12,508.9 511.68,517.5 516.25,508.9 520.82,517.5 523.1,513.2" stroke="#3a3a96" stroke-width="1.2" fill="none"/>
<text x="509.6" y="506.3" font-size="7.6" fill="#36368c" text-anchor="middle" font-family="Liberation Sans" font-weight="normal" stroke="#36368c" stroke-width="0.35">4.7</text>
<text x="493.4" y="511" font-size="5.6" fill="#1a1a1a" text-anchor="middle" font-family="Liberation Sans" font-weight="bold">1</text>
<text x="525.4" y="511" font-size="5.6" fill="#1a1a1a" text-anchor="middle" font-family="Liberation Sans" font-weight="bold">2</text>
<polyline points="523.1,513.2 605,513.2" stroke="#2b2b2b" stroke-width="1.15" fill="none"/>
<polyline points="553.9,513.2 553.9,535.4 566.4,535.4" stroke="#2b2b2b" stroke-width="1.15" fill="none"/>
<polyline points="566.4,535.4 568.69,531.1 573.27,539.7 577.86,531.1 582.44,539.7 587.02,531.1 591.61,539.7 593.9,535.4" stroke="#3a3a96" stroke-width="1.2" fill="none"/>
<polyline points="593.9,535.4 616,535.4" stroke="#2b2b2b" stroke-width="1.15" fill="none"/>
<text x="580.9" y="528.6" font-size="7.6" fill="#36368c" text-anchor="middle" font-family="Liberation Sans" font-weight="normal" stroke="#36368c" stroke-width="0.35">10k</text>
<text x="564.4" y="533" font-size="5.6" fill="#1a1a1a" text-anchor="middle" font-family="Liberation Sans" font-weight="bold">1</text>
<text x="597.4" y="533" font-size="5.6" fill="#1a1a1a" text-anchor="middle" font-family="Liberation Sans" font-weight="bold">2</text>
<text x="595.5" y="510" font-size="5.6" fill="#1a1a1a" text-anchor="middle" font-family="Liberation Sans" font-weight="bold">1</text>
<circle cx="473.4" cy="490.9" r="2.3" fill="#111"/>
<circle cx="553.9" cy="513.2" r="2.3" fill="#111"/>
<circle cx="616" cy="535.4" r="2.3" fill="#111"/>
<polyline points="616,468.6 616,504.3" stroke="#2b2b2b" stroke-width="1.15" fill="none"/>
<polyline points="616,522.3 616,602.3" stroke="#2b2b2b" stroke-width="1.15" fill="none"/>
<line x1="605.4" y1="505.6" x2="605.4" y2="521.2" stroke="#3a3a96" stroke-width="1.4"/>
<line x1="607.2" y1="504.3" x2="607.2" y2="508.3" stroke="#3a3a96" stroke-width="1.3"/>
<line x1="607.2" y1="511.2" x2="607.2" y2="515.2" stroke="#3a3a96" stroke-width="1.3"/>
<line x1="607.2" y1="518.3" x2="607.2" y2="522.3" stroke="#3a3a96" stroke-width="1.3"/>
<line x1="607.2" y1="506.3" x2="616" y2="506.3" stroke="#3a3a96" stroke-width="1.2"/>
<line x1="616" y1="506.3" x2="616" y2="504.3" stroke="#3a3a96" stroke-width="1.2"/>
<line x1="607.2" y1="513.2" x2="616" y2="513.2" stroke="#3a3a96" stroke-width="1.2"/>
<polygon points="607.7,513.2 611.7,510.9 611.7,515.5" stroke="#3a3a96" stroke-width="1" fill="#3a3a96"/>
<line x1="616" y1="513.2" x2="616" y2="522.3" stroke="#3a3a96" stroke-width="1.2"/>
<line x1="607.2" y1="520.3" x2="616" y2="520.3" stroke="#3a3a96" stroke-width="1.2"/>
<polyline points="616,504.3 625.1,504.3 625.1,522.3 616,522.3" stroke="#3a3a96" stroke-width="1.2" fill="none"/>
<polygon points="625.1,510.8 622.1,515.8 628.1,515.8" stroke="#3a3a96" stroke-width="1.1" fill="none"/>
<line x1="622.1" y1="510.8" x2="628.1" y2="510.8" stroke="#3a3a96" stroke-width="1.1"/>
<text x="613.5" y="500.5" font-size="5.6" fill="#1a1a1a" text-anchor="middle" font-family="Liberation Sans" font-weight="bold" transform="rotate(-90 613.5 500.5)">2</text>
<text x="613.5" y="527" font-size="5.6" fill="#1a1a1a" text-anchor="middle" font-family="Liberation Sans" font-weight="bold" transform="rotate(-90 613.5 527)">3</text>
<text x="635.8" y="513.2" font-size="8.9" fill="#36368c" text-anchor="middle" font-family="Liberation Sans" font-weight="normal" transform="rotate(-90 635.8 513.2)" textLength="32.5" lengthAdjust="spacingAndGlyphs" stroke="#36368c" stroke-width="0.35">IRF3205</text>
<polyline points="656.2,468.6 656.2,502" stroke="#2b2b2b" stroke-width="1.15" fill="none"/>
<polyline points="656.2,502 660.7,504.42 651.7,509.25 660.7,514.08 651.7,518.92 660.7,523.75 651.7,528.58 656.2,531" stroke="#3a3a96" stroke-width="1.2" fill="none"/>
<polyline points="656.2,531 656.2,664.8" stroke="#2b2b2b" stroke-width="1.15" fill="none"/>
<line x1="649.5" y1="574.5" x2="662.9" y2="574.5" stroke="#3a3a96" stroke-width="1.3"/>
<path d="M649.5,579.1 A10.55,10.55 0 0 1 662.9,579.1" stroke="#3a3a96" stroke-width="1.3" fill="none"/>
<text x="649.2" y="517.3" font-size="8.2" fill="#36368c" text-anchor="middle" font-family="Liberation Sans" font-weight="normal" transform="rotate(-90 649.2 517.3)" stroke="#36368c" stroke-width="0.35">100</text>
<text x="653.2" y="500" font-size="5.6" fill="#1a1a1a" text-anchor="middle" font-family="Liberation Sans" font-weight="bold" transform="rotate(-90 653.2 500)">2</text>
<text x="653" y="533.5" font-size="5.6" fill="#1a1a1a" text-anchor="middle" font-family="Liberation Sans" font-weight="bold" transform="rotate(-90 653 533.5)">1</text>
<text x="647.3" y="575" font-size="7.9" fill="#36368c" text-anchor="middle" font-family="Liberation Sans" font-weight="normal" transform="rotate(-90 647.3 575)" stroke="#36368c" stroke-width="0.35">100n</text>
<text x="653.2" y="569" font-size="5.6" fill="#1a1a1a" text-anchor="middle" font-family="Liberation Sans" font-weight="bold" transform="rotate(-90 653.2 569)">1</text>
<text x="653.2" y="583" font-size="5.6" fill="#1a1a1a" text-anchor="middle" font-family="Liberation Sans" font-weight="bold" transform="rotate(-90 653.2 583)">2</text>
<circle cx="616" cy="468.6" r="2.3" fill="#111"/>
<circle cx="656.2" cy="468.6" r="2.3" fill="#111"/>
<circle cx="616" cy="602.3" r="2.3" fill="#111"/>
<circle cx="656.2" cy="602.3" r="2.3" fill="#111"/>
<polyline points="473.8,637.8 512.9,637.8" stroke="#2b2b2b" stroke-width="1.15" fill="none"/>
<polyline points="523.9,637.8 553.9,637.8 553.9,660.3" stroke="#2b2b2b" stroke-width="1.15" fill="none"/>
<line x1="512.9" y1="631.2" x2="512.9" y2="644.4" stroke="#3a3a96" stroke-width="1.3"/>
<polygon points="512.9,637.8 523.9,631.2 523.9,644.4" stroke="#3a3a96" stroke-width="1.2" fill="none"/>
<text x="518.9" y="628.5" font-size="7.6" fill="#36368c" text-anchor="middle" font-family="Liberation Sans" font-weight="normal" textLength="26.5" lengthAdjust="spacingAndGlyphs" stroke="#36368c" stroke-width="0.35">1N4148</text>
<text x="507.4" y="636" font-size="5.6" fill="#1a1a1a" text-anchor="middle" font-family="Liberation Sans" font-weight="bold">1</text>
<text x="530.4" y="636" font-size="5.6" fill="#1a1a1a" text-anchor="middle" font-family="Liberation Sans" font-weight="bold">2</text>
<polyline points="473.8,637.8 473.8,660.3 504.4,660.3" stroke="#2b2b2b" stroke-width="1.15" fill="none"/>
<polyline points="504.4,660.3 506.69,656 511.27,664.6 515.86,656 520.44,664.6 525.02,656 529.61,664.6 531.9,660.3" stroke="#3a3a96" stroke-width="1.2" fill="none"/>
<text x="518.4" y="653.3" font-size="7.6" fill="#36368c" text-anchor="middle" font-family="Liberation Sans" font-weight="normal" stroke="#36368c" stroke-width="0.35">4.7</text>
<text x="501.9" y="658" font-size="5.6" fill="#1a1a1a" text-anchor="middle" font-family="Liberation Sans" font-weight="bold">1</text>
<text x="534.4" y="658" font-size="5.6" fill="#1a1a1a" text-anchor="middle" font-family="Liberation Sans" font-weight="bold">2</text>
<polyline points="531.9,660.3 605,660.3" stroke="#2b2b2b" stroke-width="1.15" fill="none"/>
<polyline points="553.9,660.3 553.9,682.3 566.4,682.3" stroke="#2b2b2b" stroke-width="1.15" fill="none"/>
<polyline points="566.4,682.3 568.69,678 573.27,686.6 577.86,678 582.44,686.6 587.02,678 591.61,686.6 593.9,682.3" stroke="#3a3a96" stroke-width="1.2" fill="none"/>
<text x="580.9" y="675.5" font-size="7.6" fill="#36368c" text-anchor="middle" font-family="Liberation Sans" font-weight="normal" stroke="#36368c" stroke-width="0.35">10k</text>
<text x="564.4" y="680" font-size="5.6" fill="#1a1a1a" text-anchor="middle" font-family="Liberation Sans" font-weight="bold">1</text>
<text x="597.4" y="680" font-size="5.6" fill="#1a1a1a" text-anchor="middle" font-family="Liberation Sans" font-weight="bold">2</text>
<text x="595.5" y="657" font-size="5.6" fill="#1a1a1a" text-anchor="middle" font-family="Liberation Sans" font-weight="bold">1</text>
<circle cx="553.9" cy="660.3" r="2.3" fill="#111"/>
<circle cx="473.8" cy="637.8" r="2.3" fill="#111"/>
<polyline points="593.9,682.3 616,682.3" stroke="#2b2b2b" stroke-width="1.15" fill="none"/>
<polyline points="616,602.3 616,651.2" stroke="#2b2b2b" stroke-width="1.15" fill="none"/>
<polyline points="616,669 616,682.3" stroke="#2b2b2b" stroke-width="1.15" fill="none"/>
<line x1="605.4" y1="652.7" x2="605.4" y2="668.3" stroke="#3a3a96" stroke-width="1.4"/>
<line x1="607.2" y1="651.2" x2="607.2" y2="655.2" stroke="#3a3a96" stroke-width="1.3"/>
<line x1="607.2" y1="658.3" x2="607.2" y2="662.3" stroke="#3a3a96" stroke-width="1.3"/>
<line x1="607.2" y1="665" x2="607.2" y2="669" stroke="#3a3a96" stroke-width="1.3"/>
<line x1="607.2" y1="653.2" x2="616" y2="653.2" stroke="#3a3a96" stroke-width="1.2"/>
<line x1="616" y1="653.2" x2="616" y2="651.2" stroke="#3a3a96" stroke-width="1.2"/>
<line x1="607.2" y1="660.3" x2="616" y2="660.3" stroke="#3a3a96" stroke-width="1.2"/>
<polygon points="607.7,660.3 611.7,658 611.7,662.6" stroke="#3a3a96" stroke-width="1" fill="#3a3a96"/>
<line x1="616" y1="660.3" x2="616" y2="669" stroke="#3a3a96" stroke-width="1.2"/>
<line x1="607.2" y1="667" x2="616" y2="667" stroke="#3a3a96" stroke-width="1.2"/>
<polyline points="616,651.2 625.1,651.2 625.1,669 616,669" stroke="#3a3a96" stroke-width="1.2" fill="none"/>
<polygon points="625.1,657.6 622.1,662.6 628.1,662.6" stroke="#3a3a96" stroke-width="1.1" fill="none"/>
<line x1="622.1" y1="657.6" x2="628.1" y2="657.6" stroke="#3a3a96" stroke-width="1.1"/>
<text x="613.5" y="647.5" font-size="5.6" fill="#1a1a1a" text-anchor="middle" font-family="Liberation Sans" font-weight="bold" transform="rotate(-90 613.5 647.5)">2</text>
<text x="613.5" y="674" font-size="5.6" fill="#1a1a1a" text-anchor="middle" font-family="Liberation Sans" font-weight="bold" transform="rotate(-90 613.5 674)">3</text>
<text x="635.8" y="660.3" font-size="8.9" fill="#36368c" text-anchor="middle" font-family="Liberation Sans" font-weight="normal" transform="rotate(-90 635.8 660.3)" textLength="32.5" lengthAdjust="spacingAndGlyphs" stroke="#36368c" stroke-width="0.35">IRF3205</text>
<polyline points="616,682.3 616,709.2" stroke="#2b2b2b" stroke-width="1.15" fill="none"/>
<circle cx="616" cy="682.3" r="2.3" fill="#111"/>
<circle cx="616" cy="709.2" r="2.3" fill="#111"/>
<line x1="649.5" y1="622.9" x2="662.9" y2="622.9" stroke="#3a3a96" stroke-width="1.3"/>
<path d="M649.5,627.5 A10.55,10.55 0 0 1 662.9,627.5" stroke="#3a3a96" stroke-width="1.3" fill="none"/>
<polyline points="656.2,664.8 660.7,666.96 651.7,671.27 660.7,675.59 651.7,679.91 660.7,684.23 651.7,688.54 656.2,690.7" stroke="#3a3a96" stroke-width="1.2" fill="none"/>
<polyline points="656.2,690.7 656.2,709.2" stroke="#2b2b2b" stroke-width="1.15" fill="none"/>
<text x="647.3" y="624.5" font-size="7.9" fill="#36368c" text-anchor="middle" font-family="Liberation Sans" font-weight="normal" transform="rotate(-90 647.3 624.5)" stroke="#36368c" stroke-width="0.35">100n</text>
<text x="653.2" y="617" font-size="5.6" fill="#1a1a1a" text-anchor="middle" font-family="Liberation Sans" font-weight="bold" transform="rotate(-90 653.2 617)">1</text>
<text x="653.2" y="632" font-size="5.6" fill="#1a1a1a" text-anchor="middle" font-family="Liberation Sans" font-weight="bold" transform="rotate(-90 653.2 632)">2</text>
<text x="649.2" y="678" font-size="8.2" fill="#36368c" text-anchor="middle" font-family="Liberation Sans" font-weight="normal" transform="rotate(-90 649.2 678)" stroke="#36368c" stroke-width="0.35">100</text>
<text x="653.2" y="662" font-size="5.6" fill="#1a1a1a" text-anchor="middle" font-family="Liberation Sans" font-weight="bold" transform="rotate(-90 653.2 662)">2</text>
<text x="653" y="694" font-size="5.6" fill="#1a1a1a" text-anchor="middle" font-family="Liberation Sans" font-weight="bold" transform="rotate(-90 653 694)">1</text>
<circle cx="656.2" cy="709.2" r="2.3" fill="#111"/>
<circle cx="689.4" cy="602.3" r="2.4" fill="#fff" stroke="#3a3a96" stroke-width="1.2"/>
<text x="672.5" y="597.6" font-size="7.9" fill="#36368c" text-anchor="start" font-family="Liberation Sans" font-weight="normal" textLength="23" lengthAdjust="spacingAndGlyphs" stroke="#36368c" stroke-width="0.35">Phase</text>
<text x="701" y="597.6" font-size="7.9" fill="#36368c" text-anchor="start" font-family="Liberation Sans" font-weight="normal" stroke="#36368c" stroke-width="0.35">2</text>
<text x="680.9" y="601" font-size="4.3" fill="#1a1a1a" text-anchor="middle" font-family="Liberation Sans" font-weight="bold">TP</text>
<polyline points="718.2,490.9 739.7,490.9" stroke="#2b2b2b" stroke-width="1.15" fill="none"/>
<polyline points="750.7,490.9 789.7,490.9 789.7,513.2" stroke="#2b2b2b" stroke-width="1.15" fill="none"/>
<line x1="739.7" y1="484.3" x2="739.7" y2="497.5" stroke="#3a3a96" stroke-width="1.3"/>
<polygon points="739.7,490.9 750.7,484.3 750.7,497.5" stroke="#3a3a96" stroke-width="1.2" fill="none"/>
<text x="745.7" y="481.6" font-size="7.6" fill="#36368c" text-anchor="middle" font-family="Liberation Sans" font-weight="normal" textLength="26.5" lengthAdjust="spacingAndGlyphs" stroke="#36368c" stroke-width="0.35">1N4148</text>
<text x="734.2" y="489.5" font-size="5.6" fill="#1a1a1a" text-anchor="middle" font-family="Liberation Sans" font-weight="bold">1</text>
<text x="757.2" y="489.5" font-size="5.6" fill="#1a1a1a" text-anchor="middle" font-family="Liberation Sans" font-weight="bold">2</text>
<polyline points="718.2,490.9 718.2,513.2 731.5,513.2" stroke="#2b2b2b" stroke-width="1.15" fill="none"/>
<polyline points="731.5,513.2 733.78,508.9 738.35,517.5 742.92,508.9 747.48,517.5 752.05,508.9 756.62,517.5 758.9,513.2" stroke="#3a3a96" stroke-width="1.2" fill="none"/>
<text x="745.4" y="506.3" font-size="7.6" fill="#36368c" text-anchor="middle" font-family="Liberation Sans" font-weight="normal" stroke="#36368c" stroke-width="0.35">4.7</text>
<text x="729.2" y="511" font-size="5.6" fill="#1a1a1a" text-anchor="middle" font-family="Liberation Sans" font-weight="bold">1</text>
<text x="761.2" y="511" font-size="5.6" fill="#1a1a1a" text-anchor="middle" font-family="Liberation Sans" font-weight="bold">2</text>
<polyline points="758.9,513.2 840.8,513.2" stroke="#2b2b2b" stroke-width="1.15" fill="none"/>
<polyline points="789.7,513.2 789.7,535.4 802.2,535.4" stroke="#2b2b2b" stroke-width="1.15" fill="none"/>
<polyline points="802.2,535.4 804.49,531.1 809.08,539.7 813.66,531.1 818.24,539.7 822.83,531.1 827.41,539.7 829.7,535.4" stroke="#3a3a96" stroke-width="1.2" fill="none"/>
<polyline points="829.7,535.4 851.8,535.4" stroke="#2b2b2b" stroke-width="1.15" fill="none"/>
<text x="816.7" y="528.6" font-size="7.6" fill="#36368c" text-anchor="middle" font-family="Liberation Sans" font-weight="normal" stroke="#36368c" stroke-width="0.35">10k</text>
<text x="800.2" y="533" font-size="5.6" fill="#1a1a1a" text-anchor="middle" font-family="Liberation Sans" font-weight="bold">1</text>
<text x="833.2" y="533" font-size="5.6" fill="#1a1a1a" text-anchor="middle" font-family="Liberation Sans" font-weight="bold">2</text>
<text x="831.3" y="510" font-size="5.6" fill="#1a1a1a" text-anchor="middle" font-family="Liberation Sans" font-weight="bold">1</text>
<circle cx="718.2" cy="490.9" r="2.3" fill="#111"/>
<circle cx="789.7" cy="513.2" r="2.3" fill="#111"/>
<circle cx="851.8" cy="535.4" r="2.3" fill="#111"/>
<polyline points="851.8,468.6 851.8,504.3" stroke="#2b2b2b" stroke-width="1.15" fill="none"/>
<polyline points="851.8,522.3 851.8,602.3" stroke="#2b2b2b" stroke-width="1.15" fill="none"/>
<line x1="841.2" y1="505.6" x2="841.2" y2="521.2" stroke="#3a3a96" stroke-width="1.4"/>
<line x1="843" y1="504.3" x2="843" y2="508.3" stroke="#3a3a96" stroke-width="1.3"/>
<line x1="843" y1="511.2" x2="843" y2="515.2" stroke="#3a3a96" stroke-width="1.3"/>
<line x1="843" y1="518.3" x2="843" y2="522.3" stroke="#3a3a96" stroke-width="1.3"/>
<line x1="843" y1="506.3" x2="851.8" y2="506.3" stroke="#3a3a96" stroke-width="1.2"/>
<line x1="851.8" y1="506.3" x2="851.8" y2="504.3" stroke="#3a3a96" stroke-width="1.2"/>
<line x1="843" y1="513.2" x2="851.8" y2="513.2" stroke="#3a3a96" stroke-width="1.2"/>
<polygon points="843.5,513.2 847.5,510.9 847.5,515.5" stroke="#3a3a96" stroke-width="1" fill="#3a3a96"/>
<line x1="851.8" y1="513.2" x2="851.8" y2="522.3" stroke="#3a3a96" stroke-width="1.2"/>
<line x1="843" y1="520.3" x2="851.8" y2="520.3" stroke="#3a3a96" stroke-width="1.2"/>
<polyline points="851.8,504.3 860.9,504.3 860.9,522.3 851.8,522.3" stroke="#3a3a96" stroke-width="1.2" fill="none"/>
<polygon points="860.9,510.8 857.9,515.8 863.9,515.8" stroke="#3a3a96" stroke-width="1.1" fill="none"/>
<line x1="857.9" y1="510.8" x2="863.9" y2="510.8" stroke="#3a3a96" stroke-width="1.1"/>
<text x="849.3" y="500.5" font-size="5.6" fill="#1a1a1a" text-anchor="middle" font-family="Liberation Sans" font-weight="bold" transform="rotate(-90 849.3 500.5)">2</text>
<text x="849.3" y="527" font-size="5.6" fill="#1a1a1a" text-anchor="middle" font-family="Liberation Sans" font-weight="bold" transform="rotate(-90 849.3 527)">3</text>
<text x="871.6" y="513.2" font-size="8.9" fill="#36368c" text-anchor="middle" font-family="Liberation Sans" font-weight="normal" transform="rotate(-90 871.6 513.2)" textLength="32.5" lengthAdjust="spacingAndGlyphs" stroke="#36368c" stroke-width="0.35">IRF3205</text>
<polyline points="892,468.6 892,502" stroke="#2b2b2b" stroke-width="1.15" fill="none"/>
<polyline points="892,502 896.5,504.42 887.5,509.25 896.5,514.08 887.5,518.92 896.5,523.75 887.5,528.58 892,531" stroke="#3a3a96" stroke-width="1.2" fill="none"/>
<polyline points="892,531 892,664.8" stroke="#2b2b2b" stroke-width="1.15" fill="none"/>
<line x1="885.3" y1="574.5" x2="898.7" y2="574.5" stroke="#3a3a96" stroke-width="1.3"/>
<path d="M885.3,579.1 A10.55,10.55 0 0 1 898.7,579.1" stroke="#3a3a96" stroke-width="1.3" fill="none"/>
<text x="885" y="517.3" font-size="8.2" fill="#36368c" text-anchor="middle" font-family="Liberation Sans" font-weight="normal" transform="rotate(-90 885 517.3)" stroke="#36368c" stroke-width="0.35">100</text>
<text x="889" y="500" font-size="5.6" fill="#1a1a1a" text-anchor="middle" font-family="Liberation Sans" font-weight="bold" transform="rotate(-90 889 500)">2</text>
<text x="888.8" y="533.5" font-size="5.6" fill="#1a1a1a" text-anchor="middle" font-family="Liberation Sans" font-weight="bold" transform="rotate(-90 888.8 533.5)">1</text>
<text x="883.1" y="575" font-size="7.9" fill="#36368c" text-anchor="middle" font-family="Liberation Sans" font-weight="normal" transform="rotate(-90 883.1 575)" stroke="#36368c" stroke-width="0.35">100n</text>
<text x="889" y="569" font-size="5.6" fill="#1a1a1a" text-anchor="middle" font-family="Liberation Sans" font-weight="bold" transform="rotate(-90 889 569)">1</text>
<text x="889" y="583" font-size="5.6" fill="#1a1a1a" text-anchor="middle" font-family="Liberation Sans" font-weight="bold" transform="rotate(-90 889 583)">2</text>
<circle cx="851.8" cy="468.6" r="2.3" fill="#111"/>
<circle cx="892" cy="468.6" r="2.3" fill="#111"/>
<circle cx="851.8" cy="602.3" r="2.3" fill="#111"/>
<circle cx="892" cy="602.3" r="2.3" fill="#111"/>
<polyline points="727.3,637.8 748.7,637.8" stroke="#2b2b2b" stroke-width="1.15" fill="none"/>
<polyline points="759.7,637.8 789.7,637.8 789.7,660.3" stroke="#2b2b2b" stroke-width="1.15" fill="none"/>
<line x1="748.7" y1="631.2" x2="748.7" y2="644.4" stroke="#3a3a96" stroke-width="1.3"/>
<polygon points="748.7,637.8 759.7,631.2 759.7,644.4" stroke="#3a3a96" stroke-width="1.2" fill="none"/>
<text x="754.7" y="628.5" font-size="7.6" fill="#36368c" text-anchor="middle" font-family="Liberation Sans" font-weight="normal" textLength="26.5" lengthAdjust="spacingAndGlyphs" stroke="#36368c" stroke-width="0.35">1N4148</text>
<text x="743.2" y="636" font-size="5.6" fill="#1a1a1a" text-anchor="middle" font-family="Liberation Sans" font-weight="bold">1</text>
<text x="766.2" y="636" font-size="5.6" fill="#1a1a1a" text-anchor="middle" font-family="Liberation Sans" font-weight="bold">2</text>
<polyline points="727.3,637.8 727.3,660.3 740.2,660.3" stroke="#2b2b2b" stroke-width="1.15" fill="none"/>
<polyline points="740.2,660.3 742.49,656 747.08,664.6 751.66,656 756.24,664.6 760.83,656 765.41,664.6 767.7,660.3" stroke="#3a3a96" stroke-width="1.2" fill="none"/>
<text x="754.2" y="653.3" font-size="7.6" fill="#36368c" text-anchor="middle" font-family="Liberation Sans" font-weight="normal" stroke="#36368c" stroke-width="0.35">4.7</text>
<text x="737.7" y="658" font-size="5.6" fill="#1a1a1a" text-anchor="middle" font-family="Liberation Sans" font-weight="bold">1</text>
<text x="770.2" y="658" font-size="5.6" fill="#1a1a1a" text-anchor="middle" font-family="Liberation Sans" font-weight="bold">2</text>
<polyline points="767.7,660.3 840.8,660.3" stroke="#2b2b2b" stroke-width="1.15" fill="none"/>
<polyline points="789.7,660.3 789.7,682.3 802.2,682.3" stroke="#2b2b2b" stroke-width="1.15" fill="none"/>
<polyline points="802.2,682.3 804.49,678 809.08,686.6 813.66,678 818.24,686.6 822.83,678 827.41,686.6 829.7,682.3" stroke="#3a3a96" stroke-width="1.2" fill="none"/>
<text x="816.7" y="675.5" font-size="7.6" fill="#36368c" text-anchor="middle" font-family="Liberation Sans" font-weight="normal" stroke="#36368c" stroke-width="0.35">10k</text>
<text x="800.2" y="680" font-size="5.6" fill="#1a1a1a" text-anchor="middle" font-family="Liberation Sans" font-weight="bold">1</text>
<text x="833.2" y="680" font-size="5.6" fill="#1a1a1a" text-anchor="middle" font-family="Liberation Sans" font-weight="bold">2</text>
<text x="831.3" y="657" font-size="5.6" fill="#1a1a1a" text-anchor="middle" font-family="Liberation Sans" font-weight="bold">1</text>
<circle cx="789.7" cy="660.3" r="2.3" fill="#111"/>
<circle cx="727.3" cy="642.5" r="2.3" fill="#111"/>
<polyline points="829.7,682.3 851.8,682.3" stroke="#2b2b2b" stroke-width="1.15" fill="none"/>
<polyline points="851.8,602.3 851.8,651.2" stroke="#2b2b2b" stroke-width="1.15" fill="none"/>
<polyline points="851.8,669 851.8,682.3" stroke="#2b2b2b" stroke-width="1.15" fill="none"/>
<line x1="841.2" y1="652.7" x2="841.2" y2="668.3" stroke="#3a3a96" stroke-width="1.4"/>
<line x1="843" y1="651.2" x2="843" y2="655.2" stroke="#3a3a96" stroke-width="1.3"/>
<line x1="843" y1="658.3" x2="843" y2="662.3" stroke="#3a3a96" stroke-width="1.3"/>
<line x1="843" y1="665" x2="843" y2="669" stroke="#3a3a96" stroke-width="1.3"/>
<line x1="843" y1="653.2" x2="851.8" y2="653.2" stroke="#3a3a96" stroke-width="1.2"/>
<line x1="851.8" y1="653.2" x2="851.8" y2="651.2" stroke="#3a3a96" stroke-width="1.2"/>
<line x1="843" y1="660.3" x2="851.8" y2="660.3" stroke="#3a3a96" stroke-width="1.2"/>
<polygon points="843.5,660.3 847.5,658 847.5,662.6" stroke="#3a3a96" stroke-width="1" fill="#3a3a96"/>
<line x1="851.8" y1="660.3" x2="851.8" y2="669" stroke="#3a3a96" stroke-width="1.2"/>
<line x1="843" y1="667" x2="851.8" y2="667" stroke="#3a3a96" stroke-width="1.2"/>
<polyline points="851.8,651.2 860.9,651.2 860.9,669 851.8,669" stroke="#3a3a96" stroke-width="1.2" fill="none"/>
<polygon points="860.9,657.6 857.9,662.6 863.9,662.6" stroke="#3a3a96" stroke-width="1.1" fill="none"/>
<line x1="857.9" y1="657.6" x2="863.9" y2="657.6" stroke="#3a3a96" stroke-width="1.1"/>
<text x="849.3" y="647.5" font-size="5.6" fill="#1a1a1a" text-anchor="middle" font-family="Liberation Sans" font-weight="bold" transform="rotate(-90 849.3 647.5)">2</text>
<text x="849.3" y="674" font-size="5.6" fill="#1a1a1a" text-anchor="middle" font-family="Liberation Sans" font-weight="bold" transform="rotate(-90 849.3 674)">3</text>
<text x="871.6" y="660.3" font-size="8.9" fill="#36368c" text-anchor="middle" font-family="Liberation Sans" font-weight="normal" transform="rotate(-90 871.6 660.3)" textLength="32.5" lengthAdjust="spacingAndGlyphs" stroke="#36368c" stroke-width="0.35">IRF3205</text>
<polyline points="842.8,682.3 842.8,709.2" stroke="#2b2b2b" stroke-width="1.15" fill="none"/>
<circle cx="842.8" cy="682.3" r="2.3" fill="#111"/>
<circle cx="842.8" cy="709.2" r="2.3" fill="#111"/>
<line x1="885.3" y1="622.9" x2="898.7" y2="622.9" stroke="#3a3a96" stroke-width="1.3"/>
<path d="M885.3,627.5 A10.55,10.55 0 0 1 898.7,627.5" stroke="#3a3a96" stroke-width="1.3" fill="none"/>
<polyline points="892,664.8 896.5,666.96 887.5,671.27 896.5,675.59 887.5,679.91 896.5,684.23 887.5,688.54 892,690.7" stroke="#3a3a96" stroke-width="1.2" fill="none"/>
<polyline points="892,690.7 892,709.2" stroke="#2b2b2b" stroke-width="1.15" fill="none"/>
<text x="883.1" y="624.5" font-size="7.9" fill="#36368c" text-anchor="middle" font-family="Liberation Sans" font-weight="normal" transform="rotate(-90 883.1 624.5)" stroke="#36368c" stroke-width="0.35">100n</text>
<text x="889" y="617" font-size="5.6" fill="#1a1a1a" text-anchor="middle" font-family="Liberation Sans" font-weight="bold" transform="rotate(-90 889 617)">1</text>
<text x="889" y="632" font-size="5.6" fill="#1a1a1a" text-anchor="middle" font-family="Liberation Sans" font-weight="bold" transform="rotate(-90 889 632)">2</text>
<text x="885" y="678" font-size="8.2" fill="#36368c" text-anchor="middle" font-family="Liberation Sans" font-weight="normal" transform="rotate(-90 885 678)" stroke="#36368c" stroke-width="0.35">100</text>
<text x="889" y="662" font-size="5.6" fill="#1a1a1a" text-anchor="middle" font-family="Liberation Sans" font-weight="bold" transform="rotate(-90 889 662)">2</text>
<text x="888.8" y="694" font-size="5.6" fill="#1a1a1a" text-anchor="middle" font-family="Liberation Sans" font-weight="bold" transform="rotate(-90 888.8 694)">1</text>
<circle cx="892" cy="709.2" r="2.3" fill="#111"/>
<circle cx="916.3" cy="602.3" r="2.4" fill="#fff" stroke="#3a3a96" stroke-width="1.2"/>
<text x="899.4" y="597.6" font-size="7.9" fill="#36368c" text-anchor="start" font-family="Liberation Sans" font-weight="normal" textLength="23" lengthAdjust="spacingAndGlyphs" stroke="#36368c" stroke-width="0.35">Phase</text>
<text x="927.9" y="597.6" font-size="7.9" fill="#36368c" text-anchor="start" font-family="Liberation Sans" font-weight="normal" stroke="#36368c" stroke-width="0.35">3</text>
<text x="907.8" y="601" font-size="4.3" fill="#1a1a1a" text-anchor="middle" font-family="Liberation Sans" font-weight="bold">TP</text>
<circle cx="927.5" cy="602.3" r="2.3" fill="#111"/>
<polyline points="976.5,642.4 976.5,628.7 1016.7,628.7 1016.7,642.4" stroke="#2b2b2b" stroke-width="1.15" fill="none"/>
<polyline points="976.5,667.9 976.5,682.2 1016.7,682.2 1016.7,667.9" stroke="#2b2b2b" stroke-width="1.15" fill="none"/>
<polyline points="998.7,628.7 998.7,642.4" stroke="#2b2b2b" stroke-width="1.15" fill="none"/>
<polyline points="998.7,667.9 998.7,704" stroke="#2b2b2b" stroke-width="1.15" fill="none"/>
<polyline points="976.5,642.4 981,644.52 972,648.77 981,653.02 972,657.27 981,661.52 972,665.77 976.5,667.9" stroke="#3a3a96" stroke-width="1.2" fill="none"/>
<text x="973.5" y="638" font-size="5.6" fill="#1a1a1a" text-anchor="middle" font-family="Liberation Sans" font-weight="bold" transform="rotate(-90 973.5 638)">2</text>
<text x="973.5" y="672" font-size="5.6" fill="#1a1a1a" text-anchor="middle" font-family="Liberation Sans" font-weight="bold" transform="rotate(-90 973.5 672)">1</text>
<polyline points="998.7,642.4 1003.2,644.52 994.2,648.77 1003.2,653.02 994.2,657.27 1003.2,661.52 994.2,665.77 998.7,667.9" stroke="#3a3a96" stroke-width="1.2" fill="none"/>
<text x="995.7" y="638" font-size="5.6" fill="#1a1a1a" text-anchor="middle" font-family="Liberation Sans" font-weight="bold" transform="rotate(-90 995.7 638)">2</text>
<text x="995.7" y="672" font-size="5.6" fill="#1a1a1a" text-anchor="middle" font-family="Liberation Sans" font-weight="bold" transform="rotate(-90 995.7 672)">1</text>
<polyline points="1016.7,642.4 1021.2,644.52 1012.2,648.77 1021.2,653.02 1012.2,657.27 1021.2,661.52 1012.2,665.77 1016.7,667.9" stroke="#3a3a96" stroke-width="1.2" fill="none"/>
<text x="1013.7" y="638" font-size="5.6" fill="#1a1a1a" text-anchor="middle" font-family="Liberation Sans" font-weight="bold" transform="rotate(-90 1013.7 638)">2</text>
<text x="1013.7" y="672" font-size="5.6" fill="#1a1a1a" text-anchor="middle" font-family="Liberation Sans" font-weight="bold" transform="rotate(-90 1013.7 672)">1</text>
<text x="967.9" y="655.2" font-size="7.6" fill="#36368c" text-anchor="middle" font-family="Liberation Sans" font-weight="normal" transform="rotate(-90 967.9 655.2)" stroke="#36368c" stroke-width="0.35">Rs</text>
<text x="990.1" y="655.2" font-size="7.6" fill="#36368c" text-anchor="middle" font-family="Liberation Sans" font-weight="normal" transform="rotate(-90 990.1 655.2)" stroke="#36368c" stroke-width="0.35">Rs</text>
<text x="1008.2" y="655.2" font-size="7.6" fill="#36368c" text-anchor="middle" font-family="Liberation Sans" font-weight="normal" transform="rotate(-90 1008.2 655.2)" stroke="#36368c" stroke-width="0.35">Rs</text>
<circle cx="998.7" cy="628.7" r="2.3" fill="#111"/>
<circle cx="998.7" cy="682.2" r="2.3" fill="#111"/>
<line x1="991.7" y1="704" x2="1005.7" y2="704" stroke="#3a3a96" stroke-width="1.3"/>
<line x1="994.2" y1="707.5" x2="1003.2" y2="707.5" stroke="#3a3a96" stroke-width="1.3"/>
<line x1="996.7" y1="711" x2="1000.7" y2="711" stroke="#3a3a96" stroke-width="1.3"/>
<polygon points="687,5.5 705.1,5.5 705.1,41.2 687,41.2" stroke="#3a3a96" stroke-width="1.3" fill="none"/>
<polyline points="687,25.1 691.5,20.9 696,25.8 700.6,20.9 705.1,25.1" stroke="#3a3a96" stroke-width="1.3" fill="none"/>
<polyline points="691.5,20.9 691.5,54.1 673.4,54.1 673.4,85.4 687.2,85.4" stroke="#2b2b2b" stroke-width="1.15" fill="none"/>
<polyline points="700.6,20.9 700.6,54.1 718.5,54.1 718.5,85.4 704.8,85.4" stroke="#2b2b2b" stroke-width="1.15" fill="none"/>
<text x="687" y="46" font-size="5.6" fill="#1a1a1a" text-anchor="middle" font-family="Liberation Sans" font-weight="bold" transform="rotate(-90 687 46)">2</text>
<text x="696.5" y="46" font-size="5.6" fill="#1a1a1a" text-anchor="middle" font-family="Liberation Sans" font-weight="bold" transform="rotate(-90 696.5 46)">1</text>
<polygon points="696,76.6 704.8,85.4 696,94.2 687.2,85.4" stroke="#3a3a96" stroke-width="1.3" fill="none"/>
<polygon points="693.5,82.5 698.5,82.5 696,87.5" stroke="#3a3a96" stroke-width="1" fill="none"/>
<line x1="693.5" y1="87.8" x2="698.5" y2="87.8" stroke="#3a3a96" stroke-width="1"/>
<line x1="696" y1="81" x2="696" y2="90" stroke="#3a3a96" stroke-width="1"/>
<text x="673.7" y="85.2" font-size="5.8" fill="#202020" text-anchor="start" font-family="Liberation Sans" font-weight="bold" textLength="11.5" lengthAdjust="spacingAndGlyphs">AC2</text>
<text x="706.5" y="85.2" font-size="5.8" fill="#202020" text-anchor="start" font-family="Liberation Sans" font-weight="bold" textLength="11" lengthAdjust="spacingAndGlyphs">AC1</text>
<text x="688" y="67.5" font-size="7.8" fill="#36368c" text-anchor="middle" font-family="Liberation Sans" font-weight="normal" transform="rotate(-90 688 67.5)" stroke="#36368c" stroke-width="0.35">2W10</text>
<text x="692.2" y="74" font-size="5" fill="#1a1a1a" text-anchor="middle" font-family="Liberation Sans" font-weight="bold">-</text>
<text x="692.2" y="99" font-size="5" fill="#1a1a1a" text-anchor="middle" font-family="Liberation Sans" font-weight="bold">+</text>
<polyline points="696,76.6 696,63.3 767.5,63.3 767.5,161" stroke="#2b2b2b" stroke-width="1.15" fill="none"/>
<line x1="760.5" y1="161" x2="774.5" y2="161" stroke="#3a3a96" stroke-width="1.3"/>
<line x1="763" y1="164.5" x2="772" y2="164.5" stroke="#3a3a96" stroke-width="1.3"/>
<line x1="765.5" y1="168" x2="769.5" y2="168" stroke="#3a3a96" stroke-width="1.3"/>
<text x="763.5" y="158.5" font-size="4" fill="#1a1a1a" text-anchor="middle" font-family="Liberation Sans" font-weight="bold">1</text>
<circle cx="744.9" cy="63.3" r="2.3" fill="#111"/>
<polyline points="744.9,63.3 744.9,126" stroke="#2b2b2b" stroke-width="1.15" fill="none"/>
<polyline points="744.9,126 749.4,128.18 740.4,132.55 749.4,136.92 740.4,141.28 749.4,145.65 740.4,150.02 744.9,152.2" stroke="#3a3a96" stroke-width="1.2" fill="none"/>
<polyline points="744.9,152.2 744.9,170.2 696,170.2" stroke="#2b2b2b" stroke-width="1.15" fill="none"/>
<polyline points="696,94.2 696,126" stroke="#2b2b2b" stroke-width="1.15" fill="none"/>
<polyline points="696,126 700.5,128.18 691.5,132.55 700.5,136.92 691.5,141.28 700.5,145.65 691.5,150.02 696,152.2" stroke="#3a3a96" stroke-width="1.2" fill="none"/>
<polyline points="696,152.2 696,170.2" stroke="#2b2b2b" stroke-width="1.15" fill="none"/>
<circle cx="696" cy="170.2" r="2.3" fill="#111"/>
<text x="689.2" y="139.2" font-size="7.9" fill="#36368c" text-anchor="middle" font-family="Liberation Sans" font-weight="normal" transform="rotate(-90 689.2 139.2)" stroke="#36368c" stroke-width="0.35">10k</text>
<text x="692.5" y="122" font-size="5.6" fill="#1a1a1a" text-anchor="middle" font-family="Liberation Sans" font-weight="bold" transform="rotate(-90 692.5 122)">2</text>
<text x="692.5" y="156" font-size="5.6" fill="#1a1a1a" text-anchor="middle" font-family="Liberation Sans" font-weight="bold" transform="rotate(-90 692.5 156)">1</text>
<text x="738.1" y="139.2" font-size="7.9" fill="#36368c" text-anchor="middle" font-family="Liberation Sans" font-weight="normal" transform="rotate(-90 738.1 139.2)" stroke="#36368c" stroke-width="0.35">10k</text>
<text x="741.4" y="122" font-size="5.6" fill="#1a1a1a" text-anchor="middle" font-family="Liberation Sans" font-weight="bold" transform="rotate(-90 741.4 122)">2</text>
<text x="741.4" y="156" font-size="5.6" fill="#1a1a1a" text-anchor="middle" font-family="Liberation Sans" font-weight="bold" transform="rotate(-90 741.4 156)">1</text>
<polygon points="794,5.5 812.1,5.5 812.1,41.2 794,41.2" stroke="#3a3a96" stroke-width="1.3" fill="none"/>
<polyline points="794,25.1 798.5,20.9 803,25.8 807.6,20.9 812.1,25.1" stroke="#3a3a96" stroke-width="1.3" fill="none"/>
<polyline points="798.5,20.9 798.5,54.1 780.4,54.1 780.4,85.4 794.2,85.4" stroke="#2b2b2b" stroke-width="1.15" fill="none"/>
<polyline points="807.6,20.9 807.6,54.1 825.5,54.1 825.5,85.4 811.8,85.4" stroke="#2b2b2b" stroke-width="1.15" fill="none"/>
<text x="794" y="46" font-size="5.6" fill="#1a1a1a" text-anchor="middle" font-family="Liberation Sans" font-weight="bold" transform="rotate(-90 794 46)">2</text>
<text x="803.5" y="46" font-size="5.6" fill="#1a1a1a" text-anchor="middle" font-family="Liberation Sans" font-weight="bold" transform="rotate(-90 803.5 46)">1</text>
<polygon points="803,76.6 811.8,85.4 803,94.2 794.2,85.4" stroke="#3a3a96" stroke-width="1.3" fill="none"/>
<polygon points="800.5,82.5 805.5,82.5 803,87.5" stroke="#3a3a96" stroke-width="1" fill="none"/>
<line x1="800.5" y1="87.8" x2="805.5" y2="87.8" stroke="#3a3a96" stroke-width="1"/>
<line x1="803" y1="81" x2="803" y2="90" stroke="#3a3a96" stroke-width="1"/>
<text x="780.7" y="85.2" font-size="5.8" fill="#202020" text-anchor="start" font-family="Liberation Sans" font-weight="bold" textLength="11.5" lengthAdjust="spacingAndGlyphs">AC2</text>
<text x="813.5" y="85.2" font-size="5.8" fill="#202020" text-anchor="start" font-family="Liberation Sans" font-weight="bold" textLength="11" lengthAdjust="spacingAndGlyphs">AC1</text>
<text x="795" y="67.5" font-size="7.8" fill="#36368c" text-anchor="middle" font-family="Liberation Sans" font-weight="normal" transform="rotate(-90 795 67.5)" stroke="#36368c" stroke-width="0.35">2W10</text>
<text x="799.2" y="74" font-size="5" fill="#1a1a1a" text-anchor="middle" font-family="Liberation Sans" font-weight="bold">-</text>
<text x="799.2" y="99" font-size="5" fill="#1a1a1a" text-anchor="middle" font-family="Liberation Sans" font-weight="bold">+</text>
<polyline points="803,76.6 803,63.3 874.5,63.3 874.5,161" stroke="#2b2b2b" stroke-width="1.15" fill="none"/>
<line x1="867.5" y1="161" x2="881.5" y2="161" stroke="#3a3a96" stroke-width="1.3"/>
<line x1="870" y1="164.5" x2="879" y2="164.5" stroke="#3a3a96" stroke-width="1.3"/>
<line x1="872.5" y1="168" x2="876.5" y2="168" stroke="#3a3a96" stroke-width="1.3"/>
<text x="870.5" y="158.5" font-size="4" fill="#1a1a1a" text-anchor="middle" font-family="Liberation Sans" font-weight="bold">1</text>
<circle cx="851.9" cy="63.3" r="2.3" fill="#111"/>
<polyline points="851.9,63.3 851.9,126" stroke="#2b2b2b" stroke-width="1.15" fill="none"/>
<polyline points="851.9,126 856.4,128.18 847.4,132.55 856.4,136.92 847.4,141.28 856.4,145.65 847.4,150.02 851.9,152.2" stroke="#3a3a96" stroke-width="1.2" fill="none"/>
<polyline points="851.9,152.2 851.9,179.2 803,179.2" stroke="#2b2b2b" stroke-width="1.15" fill="none"/>
<polyline points="803,94.2 803,126" stroke="#2b2b2b" stroke-width="1.15" fill="none"/>
<polyline points="803,126 807.5,128.18 798.5,132.55 807.5,136.92 798.5,141.28 807.5,145.65 798.5,150.02 803,152.2" stroke="#3a3a96" stroke-width="1.2" fill="none"/>
<polyline points="803,152.2 803,179.2" stroke="#2b2b2b" stroke-width="1.15" fill="none"/>
<circle cx="803" cy="179.2" r="2.3" fill="#111"/>
<text x="796.2" y="139.2" font-size="7.9" fill="#36368c" text-anchor="middle" font-family="Liberation Sans" font-weight="normal" transform="rotate(-90 796.2 139.2)" stroke="#36368c" stroke-width="0.35">10k</text>
<text x="799.5" y="122" font-size="5.6" fill="#1a1a1a" text-anchor="middle" font-family="Liberation Sans" font-weight="bold" transform="rotate(-90 799.5 122)">2</text>
<text x="799.5" y="156" font-size="5.6" fill="#1a1a1a" text-anchor="middle" font-family="Liberation Sans" font-weight="bold" transform="rotate(-90 799.5 156)">1</text>
<text x="845.1" y="139.2" font-size="7.9" fill="#36368c" text-anchor="middle" font-family="Liberation Sans" font-weight="normal" transform="rotate(-90 845.1 139.2)" stroke="#36368c" stroke-width="0.35">10k</text>
<text x="848.4" y="122" font-size="5.6" fill="#1a1a1a" text-anchor="middle" font-family="Liberation Sans" font-weight="bold" transform="rotate(-90 848.4 122)">2</text>
<text x="848.4" y="156" font-size="5.6" fill="#1a1a1a" text-anchor="middle" font-family="Liberation Sans" font-weight="bold" transform="rotate(-90 848.4 156)">1</text>
<polygon points="900.5,5.5 918.6,5.5 918.6,41.2 900.5,41.2" stroke="#3a3a96" stroke-width="1.3" fill="none"/>
<polyline points="900.5,25.1 905,20.9 909.5,25.8 914.1,20.9 918.6,25.1" stroke="#3a3a96" stroke-width="1.3" fill="none"/>
<polyline points="905,20.9 905,54.1 886.9,54.1 886.9,85.4 900.7,85.4" stroke="#2b2b2b" stroke-width="1.15" fill="none"/>
<polyline points="914.1,20.9 914.1,54.1 932,54.1 932,85.4 918.3,85.4" stroke="#2b2b2b" stroke-width="1.15" fill="none"/>
<text x="900.5" y="46" font-size="5.6" fill="#1a1a1a" text-anchor="middle" font-family="Liberation Sans" font-weight="bold" transform="rotate(-90 900.5 46)">2</text>
<text x="910" y="46" font-size="5.6" fill="#1a1a1a" text-anchor="middle" font-family="Liberation Sans" font-weight="bold" transform="rotate(-90 910 46)">1</text>
<polygon points="909.5,76.6 918.3,85.4 909.5,94.2 900.7,85.4" stroke="#3a3a96" stroke-width="1.3" fill="none"/>
<polygon points="907,82.5 912,82.5 909.5,87.5" stroke="#3a3a96" stroke-width="1" fill="none"/>
<line x1="907" y1="87.8" x2="912" y2="87.8" stroke="#3a3a96" stroke-width="1"/>
<line x1="909.5" y1="81" x2="909.5" y2="90" stroke="#3a3a96" stroke-width="1"/>
<text x="887.2" y="85.2" font-size="5.8" fill="#202020" text-anchor="start" font-family="Liberation Sans" font-weight="bold" textLength="11.5" lengthAdjust="spacingAndGlyphs">AC2</text>
<text x="920" y="85.2" font-size="5.8" fill="#202020" text-anchor="start" font-family="Liberation Sans" font-weight="bold" textLength="11" lengthAdjust="spacingAndGlyphs">AC1</text>
<text x="901.5" y="67.5" font-size="7.8" fill="#36368c" text-anchor="middle" font-family="Liberation Sans" font-weight="normal" transform="rotate(-90 901.5 67.5)" stroke="#36368c" stroke-width="0.35">2W10</text>
<text x="905.7" y="74" font-size="5" fill="#1a1a1a" text-anchor="middle" font-family="Liberation Sans" font-weight="bold">-</text>
<text x="905.7" y="99" font-size="5" fill="#1a1a1a" text-anchor="middle" font-family="Liberation Sans" font-weight="bold">+</text>
<polyline points="909.5,76.6 909.5,63.3 981,63.3 981,161" stroke="#2b2b2b" stroke-width="1.15" fill="none"/>
<line x1="974" y1="161" x2="988" y2="161" stroke="#3a3a96" stroke-width="1.3"/>
<line x1="976.5" y1="164.5" x2="985.5" y2="164.5" stroke="#3a3a96" stroke-width="1.3"/>
<line x1="979" y1="168" x2="983" y2="168" stroke="#3a3a96" stroke-width="1.3"/>
<text x="977" y="158.5" font-size="4" fill="#1a1a1a" text-anchor="middle" font-family="Liberation Sans" font-weight="bold">1</text>
<circle cx="958.4" cy="63.3" r="2.3" fill="#111"/>
<polyline points="958.4,63.3 958.4,126" stroke="#2b2b2b" stroke-width="1.15" fill="none"/>
<polyline points="958.4,126 962.9,128.18 953.9,132.55 962.9,136.92 953.9,141.28 962.9,145.65 953.9,150.02 958.4,152.2" stroke="#3a3a96" stroke-width="1.2" fill="none"/>
<polyline points="958.4,152.2 958.4,188.1 909.5,188.1" stroke="#2b2b2b" stroke-width="1.15" fill="none"/>
<polyline points="909.5,94.2 909.5,126" stroke="#2b2b2b" stroke-width="1.15" fill="none"/>
<polyline points="909.5,126 914,128.18 905,132.55 914,136.92 905,141.28 914,145.65 905,150.02 909.5,152.2" stroke="#3a3a96" stroke-width="1.2" fill="none"/>
<polyline points="909.5,152.2 909.5,188.1" stroke="#2b2b2b" stroke-width="1.15" fill="none"/>
<circle cx="909.5" cy="188.1" r="2.3" fill="#111"/>
<text x="902.7" y="139.2" font-size="7.9" fill="#36368c" text-anchor="middle" font-family="Liberation Sans" font-weight="normal" transform="rotate(-90 902.7 139.2)" stroke="#36368c" stroke-width="0.35">10k</text>
<text x="906" y="122" font-size="5.6" fill="#1a1a1a" text-anchor="middle" font-family="Liberation Sans" font-weight="bold" transform="rotate(-90 906 122)">2</text>
<text x="906" y="156" font-size="5.6" fill="#1a1a1a" text-anchor="middle" font-family="Liberation Sans" font-weight="bold" transform="rotate(-90 906 156)">1</text>
<text x="951.6" y="139.2" font-size="7.9" fill="#36368c" text-anchor="middle" font-family="Liberation Sans" font-weight="normal" transform="rotate(-90 951.6 139.2)" stroke="#36368c" stroke-width="0.35">10k</text>
<text x="954.9" y="122" font-size="5.6" fill="#1a1a1a" text-anchor="middle" font-family="Liberation Sans" font-weight="bold" transform="rotate(-90 954.9 122)">2</text>
<text x="954.9" y="156" font-size="5.6" fill="#1a1a1a" text-anchor="middle" font-family="Liberation Sans" font-weight="bold" transform="rotate(-90 954.9 156)">1</text>
<line x1="593.5" y1="237.4" x2="611.5" y2="237.4" stroke="#3a3a96" stroke-width="1.3"/>
<text x="602.5" y="234.8" font-size="8.4" fill="#36368c" text-anchor="middle" font-family="Liberation Sans" font-weight="normal" stroke="#36368c" stroke-width="0.35">+5V</text>
<polyline points="602.5,237.4 602.5,271.7" stroke="#2b2b2b" stroke-width="1.15" fill="none"/>
<polyline points="602.5,271.2 606.7,273.64 598.3,278.52 606.7,283.41 598.3,288.29 606.7,293.18 598.3,298.06 602.5,300.5" stroke="#3a3a96" stroke-width="1.2" fill="none"/>
<polyline points="592.7,275.9 612.3,295 612.3,303.8" stroke="#3a3a96" stroke-width="1.2" fill="none"/>
<text x="612" y="281" font-size="4.5" fill="#1a1a1a" text-anchor="middle" font-family="Liberation Sans" font-weight="bold" transform="rotate(-90 612 281)">t</text>
<polyline points="602.5,300.5 602.5,331.7" stroke="#2b2b2b" stroke-width="1.15" fill="none"/>
<polyline points="602.5,331.7 607,334.27 598,339.4 607,344.53 598,349.67 607,354.8 598,359.93 602.5,362.5" stroke="#3a3a96" stroke-width="1.2" fill="none"/>
<polyline points="602.5,362.5 602.5,397.3" stroke="#2b2b2b" stroke-width="1.15" fill="none"/>
<line x1="595.5" y1="397.3" x2="609.5" y2="397.3" stroke="#3a3a96" stroke-width="1.3"/>
<line x1="598" y1="400.8" x2="607" y2="400.8" stroke="#3a3a96" stroke-width="1.3"/>
<line x1="600.5" y1="404.3" x2="604.5" y2="404.3" stroke="#3a3a96" stroke-width="1.3"/>
<polyline points="602.5,312.2 629.6,312.2 629.6,375 602.5,375" stroke="#2b2b2b" stroke-width="1.15" fill="none"/>
<line x1="623.1" y1="346.8" x2="636.1" y2="346.8" stroke="#3a3a96" stroke-width="1.3"/>
<path d="M623.1,351.4 A10,10 0 0 1 636.1,351.4" stroke="#3a3a96" stroke-width="1.3" fill="none"/>
<circle cx="602.5" cy="312.2" r="2.3" fill="#111"/>
<circle cx="602.5" cy="375" r="2.3" fill="#111"/>
<text x="599" y="268" font-size="5.6" fill="#1a1a1a" text-anchor="middle" font-family="Liberation Sans" font-weight="bold" transform="rotate(-90 599 268)">2</text>
<text x="599" y="305" font-size="5.6" fill="#1a1a1a" text-anchor="middle" font-family="Liberation Sans" font-weight="bold" transform="rotate(-90 599 305)">1</text>
<text x="599" y="328" font-size="5.6" fill="#1a1a1a" text-anchor="middle" font-family="Liberation Sans" font-weight="bold" transform="rotate(-90 599 328)">2</text>
<text x="599" y="366" font-size="5.6" fill="#1a1a1a" text-anchor="middle" font-family="Liberation Sans" font-weight="bold" transform="rotate(-90 599 366)">1</text>
<text x="626" y="341.5" font-size="5.6" fill="#1a1a1a" text-anchor="middle" font-family="Liberation Sans" font-weight="bold" transform="rotate(-90 626 341.5)">1</text>
<text x="626" y="355" font-size="5.6" fill="#1a1a1a" text-anchor="middle" font-family="Liberation Sans" font-weight="bold" transform="rotate(-90 626 355)">2</text>
<text x="599.5" y="242" font-size="4" fill="#1a1a1a" text-anchor="middle" font-family="Liberation Sans" font-weight="bold">1</text>
<text x="599.5" y="394.5" font-size="4" fill="#1a1a1a" text-anchor="middle" font-family="Liberation Sans" font-weight="bold">1</text>
<line x1="745.4" y1="232.6" x2="763.4" y2="232.6" stroke="#3a3a96" stroke-width="1.3"/>
<text x="754.4" y="230" font-size="8.4" fill="#36368c" text-anchor="middle" font-family="Liberation Sans" font-weight="normal" stroke="#36368c" stroke-width="0.35">VDD</text>
<polyline points="754.4,232.6 754.4,263.4" stroke="#2b2b2b" stroke-width="1.15" fill="none"/>
<polyline points="754.4,263.4 758.9,265.67 749.9,270.22 758.9,274.77 749.9,279.32 758.9,283.88 749.9,288.43 754.4,290.7" stroke="#3a3a96" stroke-width="1.2" fill="none"/>
<polyline points="754.4,290.7 754.4,325" stroke="#2b2b2b" stroke-width="1.15" fill="none"/>
<polyline points="754.4,325 758.9,327.43 749.9,332.3 758.9,337.17 749.9,342.03 758.9,346.9 749.9,351.77 754.4,354.2" stroke="#3a3a96" stroke-width="1.2" fill="none"/>
<polyline points="754.4,354.2 754.4,386.9" stroke="#2b2b2b" stroke-width="1.15" fill="none"/>
<line x1="747.4" y1="386.9" x2="761.4" y2="386.9" stroke="#3a3a96" stroke-width="1.3"/>
<line x1="749.9" y1="390.4" x2="758.9" y2="390.4" stroke="#3a3a96" stroke-width="1.3"/>
<line x1="752.4" y1="393.9" x2="756.4" y2="393.9" stroke="#3a3a96" stroke-width="1.3"/>
<circle cx="754.4" cy="312.5" r="2.3" fill="#111"/>
<text x="751" y="259.5" font-size="5.6" fill="#1a1a1a" text-anchor="middle" font-family="Liberation Sans" font-weight="bold" transform="rotate(-90 751 259.5)">2</text>
<text x="751" y="294.5" font-size="5.6" fill="#1a1a1a" text-anchor="middle" font-family="Liberation Sans" font-weight="bold" transform="rotate(-90 751 294.5)">1</text>
<text x="751" y="321" font-size="5.6" fill="#1a1a1a" text-anchor="middle" font-family="Liberation Sans" font-weight="bold" transform="rotate(-90 751 321)">2</text>
<text x="751" y="358" font-size="5.6" fill="#1a1a1a" text-anchor="middle" font-family="Liberation Sans" font-weight="bold" transform="rotate(-90 751 358)">1</text>
<text x="751" y="237" font-size="4" fill="#1a1a1a" text-anchor="middle" font-family="Liberation Sans" font-weight="bold">1</text>
<text x="751" y="384" font-size="4" fill="#1a1a1a" text-anchor="middle" font-family="Liberation Sans" font-weight="bold">1</text>
<line x1="798" y1="232.6" x2="816" y2="232.6" stroke="#3a3a96" stroke-width="1.3"/>
<text x="807" y="230" font-size="8.4" fill="#36368c" text-anchor="middle" font-family="Liberation Sans" font-weight="normal" stroke="#36368c" stroke-width="0.35">+5V</text>
<polyline points="807,232.6 807,267" stroke="#2b2b2b" stroke-width="1.15" fill="none"/>
<polyline points="807,267 811.5,269.27 802.5,273.82 811.5,278.38 802.5,282.93 811.5,287.48 802.5,292.03 807,294.3" stroke="#3a3a96" stroke-width="1.2" fill="none"/>
<polyline points="807,294.3 807,329.9" stroke="#2b2b2b" stroke-width="1.15" fill="none"/>
<polyline points="807,329.9 811.5,332.22 802.5,336.88 811.5,341.52 802.5,346.18 811.5,350.82 802.5,355.48 807,357.8" stroke="#3a3a96" stroke-width="1.2" fill="none"/>
<polyline points="807,357.8 807,392.3" stroke="#2b2b2b" stroke-width="1.15" fill="none"/>
<line x1="800" y1="392.3" x2="814" y2="392.3" stroke="#3a3a96" stroke-width="1.3"/>
<line x1="802.5" y1="395.8" x2="811.5" y2="395.8" stroke="#3a3a96" stroke-width="1.3"/>
<line x1="805" y1="399.3" x2="809" y2="399.3" stroke="#3a3a96" stroke-width="1.3"/>
<polygon points="802.5,345.8 796.5,342.8 796.5,348.8" stroke="#3a3a96" stroke-width="1" fill="#3a3a96"/>
<text x="790.5" y="344" font-size="5.6" fill="#1a1a1a" text-anchor="middle" font-family="Liberation Sans" font-weight="bold">2</text>
<text x="803.5" y="263.5" font-size="5.6" fill="#1a1a1a" text-anchor="middle" font-family="Liberation Sans" font-weight="bold" transform="rotate(-90 803.5 263.5)">2</text>
<text x="803.5" y="298" font-size="5.6" fill="#1a1a1a" text-anchor="middle" font-family="Liberation Sans" font-weight="bold" transform="rotate(-90 803.5 298)">1</text>
<text x="803.5" y="326" font-size="5.6" fill="#1a1a1a" text-anchor="middle" font-family="Liberation Sans" font-weight="bold" transform="rotate(-90 803.5 326)">3</text>
<text x="803.5" y="361.5" font-size="5.6" fill="#1a1a1a" text-anchor="middle" font-family="Liberation Sans" font-weight="bold" transform="rotate(-90 803.5 361.5)">1</text>
<text x="803.5" y="237" font-size="4" fill="#1a1a1a" text-anchor="middle" font-family="Liberation Sans" font-weight="bold">1</text>
<text x="803.5" y="389.5" font-size="4" fill="#1a1a1a" text-anchor="middle" font-family="Liberation Sans" font-weight="bold">1</text>
<polyline points="846.6,277 848.99,272.7 853.77,281.3 858.56,272.7 863.34,281.3 868.12,272.7 872.91,281.3 875.3,277" stroke="#3a3a96" stroke-width="1.2" fill="none"/>
<text x="844.5" y="275" font-size="5.6" fill="#1a1a1a" text-anchor="middle" font-family="Liberation Sans" font-weight="bold">1</text>
<text x="877.5" y="275" font-size="5.6" fill="#1a1a1a" text-anchor="middle" font-family="Liberation Sans" font-weight="bold">2</text>
<polyline points="875.3,277 918,277" stroke="#2b2b2b" stroke-width="1.15" fill="none"/>
<text x="914" y="275" font-size="5.6" fill="#1a1a1a" text-anchor="middle" font-family="Liberation Sans" font-weight="bold">2</text>
<line x1="918" y1="268.2" x2="918" y2="285.8" stroke="#3a3a96" stroke-width="1.5"/>
<polyline points="918,272.5 927.3,266" stroke="#3a3a96" stroke-width="1.2" fill="none"/>
<polyline points="918,281.5 927.3,288" stroke="#3a3a96" stroke-width="1.2" fill="none"/>
<polygon points="927.3,288.5 922.8,287.8 925.3,284.5" stroke="#3a3a96" stroke-width="1" fill="#3a3a96"/>
<polyline points="927.3,266 927.3,236.9 958,236.9" stroke="#2b2b2b" stroke-width="1.15" fill="none"/>
<polyline points="927.3,288 927.3,301.8 931.6,301.8 931.6,317" stroke="#2b2b2b" stroke-width="1.15" fill="none"/>
<line x1="924.6" y1="317" x2="938.6" y2="317" stroke="#3a3a96" stroke-width="1.3"/>
<line x1="927.1" y1="320.5" x2="936.1" y2="320.5" stroke="#3a3a96" stroke-width="1.3"/>
<line x1="929.6" y1="324" x2="933.6" y2="324" stroke="#3a3a96" stroke-width="1.3"/>
<text x="924.5" y="264" font-size="5.6" fill="#1a1a1a" text-anchor="middle" font-family="Liberation Sans" font-weight="bold" transform="rotate(-90 924.5 264)">3</text>
<text x="924.5" y="292" font-size="5.6" fill="#1a1a1a" text-anchor="middle" font-family="Liberation Sans" font-weight="bold" transform="rotate(-90 924.5 292)">1</text>
<text x="935" y="277.5" font-size="8.2" fill="#36368c" text-anchor="middle" font-family="Liberation Sans" font-weight="normal" transform="rotate(-90 935 277.5)" textLength="26.5" lengthAdjust="spacingAndGlyphs" stroke="#36368c" stroke-width="0.35">BC547</text>
<line x1="922.6" y1="210.1" x2="940.6" y2="210.1" stroke="#3a3a96" stroke-width="1.3"/>
<text x="931.6" y="207.5" font-size="8.4" fill="#36368c" text-anchor="middle" font-family="Liberation Sans" font-weight="normal" stroke="#36368c" stroke-width="0.35">+12V</text>
<text x="928.5" y="214.5" font-size="4" fill="#1a1a1a" text-anchor="middle" font-family="Liberation Sans" font-weight="bold">1</text>
<text x="928.5" y="314.5" font-size="4" fill="#1a1a1a" text-anchor="middle" font-family="Liberation Sans" font-weight="bold">1</text>
<polyline points="931.6,210.1 931.6,228.1 958,228.1" stroke="#2b2b2b" stroke-width="1.15" fill="none"/>
<polygon points="958,223.6 994.2,223.6 994.2,241.4 958,241.4" stroke="#3a3a96" stroke-width="1.3" fill="none"/>
<polyline points="958,228.1 978.5,228.1" stroke="#3a3a96" stroke-width="1.2" fill="none"/>
<polyline points="958,236.9 978.5,236.9" stroke="#3a3a96" stroke-width="1.2" fill="none"/>
<polyline points="974.8,224.2 978.7,228.1 974.8,232.5 978.7,236.9 974.8,241" stroke="#3a3a96" stroke-width="1.2" fill="none"/>
<text x="955" y="227" font-size="5.6" fill="#1a1a1a" text-anchor="middle" font-family="Liberation Sans" font-weight="bold">1</text>
<text x="955" y="235.5" font-size="5.6" fill="#1a1a1a" text-anchor="middle" font-family="Liberation Sans" font-weight="bold">2</text>
<polygon points="660.4,5.6 1020.8,5.6 1020.8,410.4 566.8,410.4 566.8,223.3 660.4,223.3" fill="#80ffff" style="mix-blend-mode:multiply"/>
</svg>
</body></html>
